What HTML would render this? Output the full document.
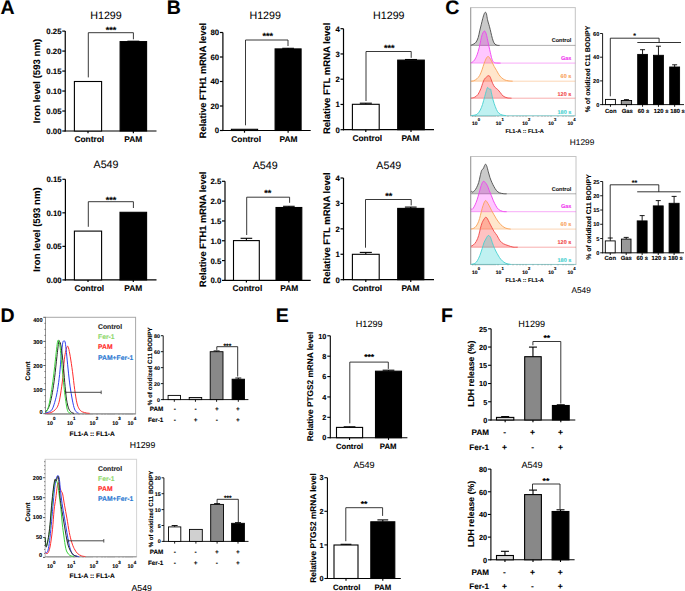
<!DOCTYPE html>
<html><head><meta charset="utf-8"><style>html,body{margin:0;padding:0;background:#fff;width:685px;height:591px;overflow:hidden}svg{display:block}</style></head><body>
<svg width="685" height="591" viewBox="0 0 685 591" style='font-family: "Liberation Sans", sans-serif;' text-rendering="geometricPrecision">
<rect width="685" height="591" fill="#fff"/>
<text x="0.4" y="14.4" text-anchor="start" font-size="19.5" font-weight="bold" fill="#000" stroke="#000" stroke-width="0.1">A</text>
<text x="166.8" y="14.4" text-anchor="start" font-size="19.5" font-weight="bold" fill="#000" stroke="#000" stroke-width="0.1">B</text>
<text x="445.2" y="14.4" text-anchor="start" font-size="19.5" font-weight="bold" fill="#000" stroke="#000" stroke-width="0.1">C</text>
<text x="0.6" y="322" text-anchor="start" font-size="19.5" font-weight="bold" fill="#000" stroke="#000" stroke-width="0.1">D</text>
<text x="275.7" y="322" text-anchor="start" font-size="19.5" font-weight="bold" fill="#000" stroke="#000" stroke-width="0.1">E</text>
<text x="440.9" y="321.8" text-anchor="start" font-size="19.5" font-weight="bold" fill="#000" stroke="#000" stroke-width="0.1">F</text>
<text x="106" y="19" text-anchor="middle" font-size="10.7" font-weight="normal" fill="#000" stroke="#000" stroke-width="0.06">H1299</text>
<line x1="65.25" y1="31.1" x2="65.25" y2="131.6" stroke="#000" stroke-width="1.2"/>
<line x1="64.65" y1="131" x2="156.5" y2="131" stroke="#000" stroke-width="1.2"/>
<line x1="62.25" y1="131" x2="65.25" y2="131" stroke="#000" stroke-width="1.2"/>
<text x="61.55" y="133.96" text-anchor="end" font-size="7.8" font-weight="bold" fill="#000" stroke="#000" stroke-width="0.1">0.00</text>
<line x1="62.25" y1="111.02" x2="65.25" y2="111.02" stroke="#000" stroke-width="1.2"/>
<text x="61.55" y="113.98" text-anchor="end" font-size="7.8" font-weight="bold" fill="#000" stroke="#000" stroke-width="0.1">0.05</text>
<line x1="62.25" y1="91.04" x2="65.25" y2="91.04" stroke="#000" stroke-width="1.2"/>
<text x="61.55" y="94" text-anchor="end" font-size="7.8" font-weight="bold" fill="#000" stroke="#000" stroke-width="0.1">0.10</text>
<line x1="62.25" y1="71.06" x2="65.25" y2="71.06" stroke="#000" stroke-width="1.2"/>
<text x="61.55" y="74.02" text-anchor="end" font-size="7.8" font-weight="bold" fill="#000" stroke="#000" stroke-width="0.1">0.15</text>
<line x1="62.25" y1="51.08" x2="65.25" y2="51.08" stroke="#000" stroke-width="1.2"/>
<text x="61.55" y="54.04" text-anchor="end" font-size="7.8" font-weight="bold" fill="#000" stroke="#000" stroke-width="0.1">0.20</text>
<line x1="62.25" y1="31.1" x2="65.25" y2="31.1" stroke="#000" stroke-width="1.2"/>
<text x="61.55" y="34.06" text-anchor="end" font-size="7.8" font-weight="bold" fill="#000" stroke="#000" stroke-width="0.1">0.25</text>
<rect x="74.4" y="81.5" width="27.2" height="49.5" fill="#fff" stroke="#000" stroke-width="1.1"/>
<line x1="88" y1="131" x2="88" y2="133.2" stroke="#000" stroke-width="1.2"/>
<line x1="133.35" y1="41.2" x2="133.35" y2="41.6" stroke="#000" stroke-width="1.1"/>
<line x1="127.39" y1="41.2" x2="139.31" y2="41.2" stroke="#000" stroke-width="1.1"/>
<rect x="120.1" y="41.6" width="26.5" height="89.4" fill="#000" stroke="#000" stroke-width="1.1"/>
<line x1="133.35" y1="131" x2="133.35" y2="133.2" stroke="#000" stroke-width="1.2"/>
<polyline points="88.3,77.4 88.3,32.7 133.4,32.7 133.4,39.3" fill="none" stroke="#222" stroke-width="0.9"/>
<text x="111" y="33.2" text-anchor="middle" font-size="9" font-weight="bold" fill="#000" stroke="#000" stroke-width="0.1">***</text>
<text x="89.3" y="142.1" text-anchor="middle" font-size="8.4" font-weight="bold" fill="#000" stroke="#000" stroke-width="0.1">Control</text>
<text x="133.2" y="142.1" text-anchor="middle" font-size="8.4" font-weight="bold" fill="#000" stroke="#000" stroke-width="0.1">PAM</text>
<text transform="translate(40,81) rotate(-90)" text-anchor="middle" font-size="9.6" font-weight="bold" fill="#000" stroke="#000" stroke-width="0.1">Iron level (593 nm)</text>
<text x="106" y="168" text-anchor="middle" font-size="10.7" font-weight="normal" fill="#000" stroke="#000" stroke-width="0.06">A549</text>
<line x1="65.4" y1="179.3" x2="65.4" y2="280.5" stroke="#000" stroke-width="1.2"/>
<line x1="64.8" y1="279.9" x2="156.5" y2="279.9" stroke="#000" stroke-width="1.2"/>
<line x1="62.4" y1="279.9" x2="65.4" y2="279.9" stroke="#000" stroke-width="1.2"/>
<text x="61.7" y="282.86" text-anchor="end" font-size="7.8" font-weight="bold" fill="#000" stroke="#000" stroke-width="0.1">0.00</text>
<line x1="62.4" y1="246.37" x2="65.4" y2="246.37" stroke="#000" stroke-width="1.2"/>
<text x="61.7" y="249.33" text-anchor="end" font-size="7.8" font-weight="bold" fill="#000" stroke="#000" stroke-width="0.1">0.05</text>
<line x1="62.4" y1="212.83" x2="65.4" y2="212.83" stroke="#000" stroke-width="1.2"/>
<text x="61.7" y="215.8" text-anchor="end" font-size="7.8" font-weight="bold" fill="#000" stroke="#000" stroke-width="0.1">0.10</text>
<line x1="62.4" y1="179.3" x2="65.4" y2="179.3" stroke="#000" stroke-width="1.2"/>
<text x="61.7" y="182.26" text-anchor="end" font-size="7.8" font-weight="bold" fill="#000" stroke="#000" stroke-width="0.1">0.15</text>
<rect x="74.4" y="231.1" width="27.2" height="48.8" fill="#fff" stroke="#000" stroke-width="1.1"/>
<line x1="88" y1="279.9" x2="88" y2="282.1" stroke="#000" stroke-width="1.2"/>
<rect x="120" y="212.3" width="26.6" height="67.6" fill="#000" stroke="#000" stroke-width="1.1"/>
<line x1="133.3" y1="279.9" x2="133.3" y2="282.1" stroke="#000" stroke-width="1.2"/>
<polyline points="88.3,226.8 88.3,201.7 133.4,201.7 133.4,208" fill="none" stroke="#222" stroke-width="0.9"/>
<text x="111" y="202.9" text-anchor="middle" font-size="9" font-weight="bold" fill="#000" stroke="#000" stroke-width="0.1">***</text>
<text x="89.3" y="291" text-anchor="middle" font-size="8.4" font-weight="bold" fill="#000" stroke="#000" stroke-width="0.1">Control</text>
<text x="133.2" y="291" text-anchor="middle" font-size="8.4" font-weight="bold" fill="#000" stroke="#000" stroke-width="0.1">PAM</text>
<text transform="translate(40,229.5) rotate(-90)" text-anchor="middle" font-size="9.6" font-weight="bold" fill="#000" stroke="#000" stroke-width="0.1">Iron level (593 nm)</text>
<text x="265.2" y="19" text-anchor="middle" font-size="10.7" font-weight="normal" fill="#000" stroke="#000" stroke-width="0.06">H1299</text>
<line x1="222.9" y1="32.5" x2="222.9" y2="131.1" stroke="#000" stroke-width="1.2"/>
<line x1="222.3" y1="130.5" x2="310.7" y2="130.5" stroke="#000" stroke-width="1.2"/>
<line x1="219.9" y1="130.5" x2="222.9" y2="130.5" stroke="#000" stroke-width="1.2"/>
<text x="219.2" y="133.46" text-anchor="end" font-size="7.8" font-weight="bold" fill="#000" stroke="#000" stroke-width="0.1">0</text>
<line x1="219.9" y1="106" x2="222.9" y2="106" stroke="#000" stroke-width="1.2"/>
<text x="219.2" y="108.96" text-anchor="end" font-size="7.8" font-weight="bold" fill="#000" stroke="#000" stroke-width="0.1">20</text>
<line x1="219.9" y1="81.5" x2="222.9" y2="81.5" stroke="#000" stroke-width="1.2"/>
<text x="219.2" y="84.46" text-anchor="end" font-size="7.8" font-weight="bold" fill="#000" stroke="#000" stroke-width="0.1">40</text>
<line x1="219.9" y1="57" x2="222.9" y2="57" stroke="#000" stroke-width="1.2"/>
<text x="219.2" y="59.96" text-anchor="end" font-size="7.8" font-weight="bold" fill="#000" stroke="#000" stroke-width="0.1">60</text>
<line x1="219.9" y1="32.5" x2="222.9" y2="32.5" stroke="#000" stroke-width="1.2"/>
<text x="219.2" y="35.46" text-anchor="end" font-size="7.8" font-weight="bold" fill="#000" stroke="#000" stroke-width="0.1">80</text>
<rect x="231.4" y="129.3" width="26.2" height="1.2" fill="#fff" stroke="#000" stroke-width="1.1"/>
<line x1="244.5" y1="130.5" x2="244.5" y2="132.7" stroke="#000" stroke-width="1.2"/>
<line x1="288.1" y1="48.3" x2="288.1" y2="48.9" stroke="#000" stroke-width="1.1"/>
<line x1="282.25" y1="48.3" x2="293.95" y2="48.3" stroke="#000" stroke-width="1.1"/>
<rect x="275.1" y="48.9" width="26" height="81.6" fill="#000" stroke="#000" stroke-width="1.1"/>
<line x1="288.1" y1="130.5" x2="288.1" y2="132.7" stroke="#000" stroke-width="1.2"/>
<polyline points="245.5,125.3 245.5,40 288,40 288,46" fill="none" stroke="#222" stroke-width="0.9"/>
<text x="267.7" y="38.7" text-anchor="middle" font-size="9" font-weight="bold" fill="#000" stroke="#000" stroke-width="0.1">***</text>
<text x="246.2" y="142.1" text-anchor="middle" font-size="8.4" font-weight="bold" fill="#000" stroke="#000" stroke-width="0.1">Control</text>
<text x="288.5" y="142.1" text-anchor="middle" font-size="8.4" font-weight="bold" fill="#000" stroke="#000" stroke-width="0.1">PAM</text>
<text transform="translate(205.5,80.5) rotate(-90)" text-anchor="middle" font-size="9.3" font-weight="bold" fill="#000" stroke="#000" stroke-width="0.1">Relative FTH1 mRNA level</text>
<text x="388.8" y="19" text-anchor="middle" font-size="10.7" font-weight="normal" fill="#000" stroke="#000" stroke-width="0.06">H1299</text>
<line x1="343.5" y1="28.7" x2="343.5" y2="130.3" stroke="#000" stroke-width="1.2"/>
<line x1="342.9" y1="129.7" x2="434" y2="129.7" stroke="#000" stroke-width="1.2"/>
<line x1="340.5" y1="129.7" x2="343.5" y2="129.7" stroke="#000" stroke-width="1.2"/>
<text x="339.8" y="132.66" text-anchor="end" font-size="7.8" font-weight="bold" fill="#000" stroke="#000" stroke-width="0.1">0</text>
<line x1="340.5" y1="104.45" x2="343.5" y2="104.45" stroke="#000" stroke-width="1.2"/>
<text x="339.8" y="107.41" text-anchor="end" font-size="7.8" font-weight="bold" fill="#000" stroke="#000" stroke-width="0.1">1</text>
<line x1="340.5" y1="79.2" x2="343.5" y2="79.2" stroke="#000" stroke-width="1.2"/>
<text x="339.8" y="82.16" text-anchor="end" font-size="7.8" font-weight="bold" fill="#000" stroke="#000" stroke-width="0.1">2</text>
<line x1="340.5" y1="53.95" x2="343.5" y2="53.95" stroke="#000" stroke-width="1.2"/>
<text x="339.8" y="56.91" text-anchor="end" font-size="7.8" font-weight="bold" fill="#000" stroke="#000" stroke-width="0.1">3</text>
<line x1="340.5" y1="28.7" x2="343.5" y2="28.7" stroke="#000" stroke-width="1.2"/>
<text x="339.8" y="31.66" text-anchor="end" font-size="7.8" font-weight="bold" fill="#000" stroke="#000" stroke-width="0.1">4</text>
<line x1="365.8" y1="103.2" x2="365.8" y2="104.3" stroke="#000" stroke-width="1.1"/>
<line x1="359.77" y1="103.2" x2="371.83" y2="103.2" stroke="#000" stroke-width="1.1"/>
<rect x="352.4" y="104.3" width="26.8" height="25.4" fill="#fff" stroke="#000" stroke-width="1.1"/>
<line x1="365.8" y1="129.7" x2="365.8" y2="131.9" stroke="#000" stroke-width="1.2"/>
<line x1="411" y1="59.5" x2="411" y2="60.1" stroke="#000" stroke-width="1.1"/>
<line x1="405.01" y1="59.5" x2="416.99" y2="59.5" stroke="#000" stroke-width="1.1"/>
<rect x="397.7" y="60.1" width="26.6" height="69.6" fill="#000" stroke="#000" stroke-width="1.1"/>
<line x1="411" y1="129.7" x2="411" y2="131.9" stroke="#000" stroke-width="1.2"/>
<polyline points="366,101 366,51.5 411.2,51.5 411.2,57.8" fill="none" stroke="#222" stroke-width="0.9"/>
<text x="389.3" y="50.7" text-anchor="middle" font-size="9" font-weight="bold" fill="#000" stroke="#000" stroke-width="0.1">***</text>
<text x="367.3" y="141.4" text-anchor="middle" font-size="8.4" font-weight="bold" fill="#000" stroke="#000" stroke-width="0.1">Control</text>
<text x="410.4" y="141.4" text-anchor="middle" font-size="8.4" font-weight="bold" fill="#000" stroke="#000" stroke-width="0.1">PAM</text>
<text transform="translate(329.7,78.4) rotate(-90)" text-anchor="middle" font-size="9.5" font-weight="bold" fill="#000" stroke="#000" stroke-width="0.1">Relative FTL mRNA level</text>
<text x="265.2" y="169" text-anchor="middle" font-size="10.7" font-weight="normal" fill="#000" stroke="#000" stroke-width="0.06">A549</text>
<line x1="225" y1="181.3" x2="225" y2="281" stroke="#000" stroke-width="1.2"/>
<line x1="224.4" y1="280.4" x2="310.7" y2="280.4" stroke="#000" stroke-width="1.2"/>
<line x1="222" y1="280.4" x2="225" y2="280.4" stroke="#000" stroke-width="1.2"/>
<text x="221.3" y="283.36" text-anchor="end" font-size="7.8" font-weight="bold" fill="#000" stroke="#000" stroke-width="0.1">0.0</text>
<line x1="222" y1="260.58" x2="225" y2="260.58" stroke="#000" stroke-width="1.2"/>
<text x="221.3" y="263.54" text-anchor="end" font-size="7.8" font-weight="bold" fill="#000" stroke="#000" stroke-width="0.1">0.5</text>
<line x1="222" y1="240.76" x2="225" y2="240.76" stroke="#000" stroke-width="1.2"/>
<text x="221.3" y="243.72" text-anchor="end" font-size="7.8" font-weight="bold" fill="#000" stroke="#000" stroke-width="0.1">1.0</text>
<line x1="222" y1="220.94" x2="225" y2="220.94" stroke="#000" stroke-width="1.2"/>
<text x="221.3" y="223.9" text-anchor="end" font-size="7.8" font-weight="bold" fill="#000" stroke="#000" stroke-width="0.1">1.5</text>
<line x1="222" y1="201.12" x2="225" y2="201.12" stroke="#000" stroke-width="1.2"/>
<text x="221.3" y="204.08" text-anchor="end" font-size="7.8" font-weight="bold" fill="#000" stroke="#000" stroke-width="0.1">2.0</text>
<line x1="222" y1="181.3" x2="225" y2="181.3" stroke="#000" stroke-width="1.2"/>
<text x="221.3" y="184.26" text-anchor="end" font-size="7.8" font-weight="bold" fill="#000" stroke="#000" stroke-width="0.1">2.5</text>
<line x1="246.4" y1="238.3" x2="246.4" y2="240.6" stroke="#000" stroke-width="1.1"/>
<line x1="240.59" y1="238.3" x2="252.21" y2="238.3" stroke="#000" stroke-width="1.1"/>
<rect x="233.5" y="240.6" width="25.8" height="39.8" fill="#fff" stroke="#000" stroke-width="1.1"/>
<line x1="246.4" y1="280.4" x2="246.4" y2="282.6" stroke="#000" stroke-width="1.2"/>
<line x1="288.9" y1="206.3" x2="288.9" y2="207.5" stroke="#000" stroke-width="1.1"/>
<line x1="283.09" y1="206.3" x2="294.7" y2="206.3" stroke="#000" stroke-width="1.1"/>
<rect x="276" y="207.5" width="25.8" height="72.9" fill="#000" stroke="#000" stroke-width="1.1"/>
<line x1="288.9" y1="280.4" x2="288.9" y2="282.6" stroke="#000" stroke-width="1.2"/>
<polyline points="246.7,235 246.7,197.2 289.6,197.2 289.6,202.8" fill="none" stroke="#222" stroke-width="0.9"/>
<text x="267.7" y="195.9" text-anchor="middle" font-size="9" font-weight="bold" fill="#000" stroke="#000" stroke-width="0.1">**</text>
<text x="247.4" y="291" text-anchor="middle" font-size="8.4" font-weight="bold" fill="#000" stroke="#000" stroke-width="0.1">Control</text>
<text x="289.3" y="291" text-anchor="middle" font-size="8.4" font-weight="bold" fill="#000" stroke="#000" stroke-width="0.1">PAM</text>
<text transform="translate(205.5,229.3) rotate(-90)" text-anchor="middle" font-size="9.3" font-weight="bold" fill="#000" stroke="#000" stroke-width="0.1">Relative FTH1 mRNA level</text>
<text x="388.8" y="169" text-anchor="middle" font-size="10.7" font-weight="normal" fill="#000" stroke="#000" stroke-width="0.06">A549</text>
<line x1="343.5" y1="178" x2="343.5" y2="280.3" stroke="#000" stroke-width="1.2"/>
<line x1="342.9" y1="279.7" x2="434" y2="279.7" stroke="#000" stroke-width="1.2"/>
<line x1="340.5" y1="279.7" x2="343.5" y2="279.7" stroke="#000" stroke-width="1.2"/>
<text x="339.8" y="282.66" text-anchor="end" font-size="7.8" font-weight="bold" fill="#000" stroke="#000" stroke-width="0.1">0</text>
<line x1="340.5" y1="254.27" x2="343.5" y2="254.27" stroke="#000" stroke-width="1.2"/>
<text x="339.8" y="257.24" text-anchor="end" font-size="7.8" font-weight="bold" fill="#000" stroke="#000" stroke-width="0.1">1</text>
<line x1="340.5" y1="228.85" x2="343.5" y2="228.85" stroke="#000" stroke-width="1.2"/>
<text x="339.8" y="231.81" text-anchor="end" font-size="7.8" font-weight="bold" fill="#000" stroke="#000" stroke-width="0.1">2</text>
<line x1="340.5" y1="203.43" x2="343.5" y2="203.43" stroke="#000" stroke-width="1.2"/>
<text x="339.8" y="206.39" text-anchor="end" font-size="7.8" font-weight="bold" fill="#000" stroke="#000" stroke-width="0.1">3</text>
<line x1="340.5" y1="178" x2="343.5" y2="178" stroke="#000" stroke-width="1.2"/>
<text x="339.8" y="180.96" text-anchor="end" font-size="7.8" font-weight="bold" fill="#000" stroke="#000" stroke-width="0.1">4</text>
<line x1="365.8" y1="252.4" x2="365.8" y2="254.3" stroke="#000" stroke-width="1.1"/>
<line x1="359.77" y1="252.4" x2="371.83" y2="252.4" stroke="#000" stroke-width="1.1"/>
<rect x="352.4" y="254.3" width="26.8" height="25.4" fill="#fff" stroke="#000" stroke-width="1.1"/>
<line x1="365.8" y1="279.7" x2="365.8" y2="281.9" stroke="#000" stroke-width="1.2"/>
<line x1="410.75" y1="207.1" x2="410.75" y2="208.4" stroke="#000" stroke-width="1.1"/>
<line x1="404.88" y1="207.1" x2="416.62" y2="207.1" stroke="#000" stroke-width="1.1"/>
<rect x="397.7" y="208.4" width="26.1" height="71.3" fill="#000" stroke="#000" stroke-width="1.1"/>
<line x1="410.75" y1="279.7" x2="410.75" y2="281.9" stroke="#000" stroke-width="1.2"/>
<polyline points="365.5,247.7 365.5,199.5 411.2,199.5 411.2,205.4" fill="none" stroke="#222" stroke-width="0.9"/>
<text x="388.8" y="199" text-anchor="middle" font-size="9" font-weight="bold" fill="#000" stroke="#000" stroke-width="0.1">**</text>
<text x="367.3" y="291" text-anchor="middle" font-size="8.4" font-weight="bold" fill="#000" stroke="#000" stroke-width="0.1">Control</text>
<text x="410.4" y="291" text-anchor="middle" font-size="8.4" font-weight="bold" fill="#000" stroke="#000" stroke-width="0.1">PAM</text>
<text transform="translate(329.7,228) rotate(-90)" text-anchor="middle" font-size="9.5" font-weight="bold" fill="#000" stroke="#000" stroke-width="0.1">Relative FTL mRNA level</text>
<rect x="470.7" y="7.6" width="104.6" height="108.3" fill="#fff" stroke="#c4c4c4" stroke-width="1"/>
<path d="M470.5,45.4 C471.02,45.18 472.67,44.65 473.6,44.1 C474.53,43.55 475.33,43.2 476.1,42.1 C476.87,41 477.6,39.37 478.2,37.5 C478.8,35.63 479.2,33.02 479.7,30.9 C480.2,28.78 480.7,26.83 481.2,24.8 C481.7,22.77 482.18,20.57 482.7,18.7 C483.22,16.83 483.83,14.67 484.3,13.6 C484.77,12.53 485.13,12.22 485.5,12.3 C485.87,12.38 486.17,12.87 486.5,14.1 C486.83,15.33 487.12,18 487.5,19.7 C487.88,21.4 488.35,22.68 488.8,24.3 C489.25,25.92 489.73,27.53 490.2,29.4 C490.67,31.27 491.1,33.55 491.6,35.5 C492.1,37.45 492.65,39.67 493.2,41.1 C493.75,42.53 494.18,43.4 494.9,44.1 C495.62,44.8 496.73,45.08 497.5,45.3 C498.27,45.52 499.17,45.38 499.5,45.4 L499.5,45.4 L470.5,45.4 Z" fill="#808080" fill-opacity="0.42" stroke="none"/>
<line x1="470.7" y1="45.4" x2="575.3" y2="45.4" stroke="#4a4a4a" stroke-width="0.8" stroke-opacity="0.55"/>
<path d="M470.5,45.4 C471.02,45.18 472.67,44.65 473.6,44.1 C474.53,43.55 475.33,43.2 476.1,42.1 C476.87,41 477.6,39.37 478.2,37.5 C478.8,35.63 479.2,33.02 479.7,30.9 C480.2,28.78 480.7,26.83 481.2,24.8 C481.7,22.77 482.18,20.57 482.7,18.7 C483.22,16.83 483.83,14.67 484.3,13.6 C484.77,12.53 485.13,12.22 485.5,12.3 C485.87,12.38 486.17,12.87 486.5,14.1 C486.83,15.33 487.12,18 487.5,19.7 C487.88,21.4 488.35,22.68 488.8,24.3 C489.25,25.92 489.73,27.53 490.2,29.4 C490.67,31.27 491.1,33.55 491.6,35.5 C492.1,37.45 492.65,39.67 493.2,41.1 C493.75,42.53 494.18,43.4 494.9,44.1 C495.62,44.8 496.73,45.08 497.5,45.3 C498.27,45.52 499.17,45.38 499.5,45.4" fill="none" stroke="#4a4a4a" stroke-width="0.9" stroke-linejoin="round"/>
<path d="M470.5,63.1 C470.85,62.9 471.92,62.43 472.6,61.9 C473.28,61.37 473.85,61.08 474.6,59.9 C475.35,58.72 476.33,56.83 477.1,54.8 C477.87,52.77 478.6,50.07 479.2,47.7 C479.8,45.33 480.2,42.8 480.7,40.6 C481.2,38.4 481.68,36.03 482.2,34.5 C482.72,32.97 483.37,31.95 483.8,31.4 C484.23,30.85 484.42,30.85 484.8,31.2 C485.18,31.55 485.68,32.28 486.1,33.5 C486.52,34.72 486.85,36.47 487.3,38.5 C487.75,40.53 488.28,43.32 488.8,45.7 C489.32,48.08 489.88,50.6 490.4,52.8 C490.92,55 491.4,57.38 491.9,58.9 C492.4,60.42 492.82,61.23 493.4,61.9 C493.98,62.57 494.22,62.7 495.4,62.9 C496.58,63.1 499.65,63.07 500.5,63.1 L500.5,63.1 L470.5,63.1 Z" fill="#ff00ff" fill-opacity="0.22" stroke="none"/>
<line x1="470.7" y1="63.1" x2="575.3" y2="63.1" stroke="#f040f0" stroke-width="0.8" stroke-opacity="0.55"/>
<path d="M470.5,63.1 C470.85,62.9 471.92,62.43 472.6,61.9 C473.28,61.37 473.85,61.08 474.6,59.9 C475.35,58.72 476.33,56.83 477.1,54.8 C477.87,52.77 478.6,50.07 479.2,47.7 C479.8,45.33 480.2,42.8 480.7,40.6 C481.2,38.4 481.68,36.03 482.2,34.5 C482.72,32.97 483.37,31.95 483.8,31.4 C484.23,30.85 484.42,30.85 484.8,31.2 C485.18,31.55 485.68,32.28 486.1,33.5 C486.52,34.72 486.85,36.47 487.3,38.5 C487.75,40.53 488.28,43.32 488.8,45.7 C489.32,48.08 489.88,50.6 490.4,52.8 C490.92,55 491.4,57.38 491.9,58.9 C492.4,60.42 492.82,61.23 493.4,61.9 C493.98,62.57 494.22,62.7 495.4,62.9 C496.58,63.1 499.65,63.07 500.5,63.1" fill="none" stroke="#f040f0" stroke-width="0.9" stroke-linejoin="round"/>
<path d="M470.8,81.2 C471.27,81.13 472.58,81.2 473.6,80.8 C474.62,80.4 475.88,79.7 476.9,78.8 C477.92,77.9 478.85,76.88 479.7,75.4 C480.55,73.92 481.25,71.93 482,69.9 C482.75,67.87 483.47,65.17 484.2,63.2 C484.93,61.23 485.75,59.22 486.4,58.1 C487.05,56.98 487.53,56.5 488.1,56.5 C488.67,56.5 489.15,57.18 489.8,58.1 C490.45,59.02 491.27,60.6 492,62 C492.73,63.4 493.45,65.1 494.2,66.5 C494.95,67.9 495.75,69.1 496.5,70.4 C497.25,71.7 497.87,73.08 498.7,74.3 C499.53,75.52 500.48,76.77 501.5,77.7 C502.52,78.63 503.68,79.38 504.8,79.9 C505.92,80.42 506.9,80.58 508.2,80.8 C509.5,81.02 511.87,81.13 512.6,81.2 L512.6,81.2 L470.8,81.2 Z" fill="#ff8000" fill-opacity="0.2" stroke="none"/>
<line x1="470.7" y1="81.2" x2="575.3" y2="81.2" stroke="#f9a055" stroke-width="0.8" stroke-opacity="0.55"/>
<path d="M470.8,81.2 C471.27,81.13 472.58,81.2 473.6,80.8 C474.62,80.4 475.88,79.7 476.9,78.8 C477.92,77.9 478.85,76.88 479.7,75.4 C480.55,73.92 481.25,71.93 482,69.9 C482.75,67.87 483.47,65.17 484.2,63.2 C484.93,61.23 485.75,59.22 486.4,58.1 C487.05,56.98 487.53,56.5 488.1,56.5 C488.67,56.5 489.15,57.18 489.8,58.1 C490.45,59.02 491.27,60.6 492,62 C492.73,63.4 493.45,65.1 494.2,66.5 C494.95,67.9 495.75,69.1 496.5,70.4 C497.25,71.7 497.87,73.08 498.7,74.3 C499.53,75.52 500.48,76.77 501.5,77.7 C502.52,78.63 503.68,79.38 504.8,79.9 C505.92,80.42 506.9,80.58 508.2,80.8 C509.5,81.02 511.87,81.13 512.6,81.2" fill="none" stroke="#f9a055" stroke-width="0.9" stroke-linejoin="round"/>
<path d="M470.8,98.2 C471.45,98.03 473.5,97.83 474.7,97.2 C475.9,96.57 476.98,95.8 478,94.4 C479.02,93 479.95,90.85 480.8,88.8 C481.65,86.75 482.45,83.77 483.1,82.1 C483.75,80.43 484.15,79.63 484.7,78.8 C485.25,77.97 485.83,77.62 486.4,77.1 C486.97,76.58 487.53,75.83 488.1,75.7 C488.67,75.57 489.33,75.78 489.8,76.3 C490.27,76.82 490.43,77.63 490.9,78.8 C491.37,79.97 491.95,81.9 492.6,83.3 C493.25,84.7 493.97,86.18 494.8,87.2 C495.63,88.22 496.67,88.48 497.6,89.4 C498.53,90.32 499.47,91.58 500.4,92.7 C501.33,93.82 502.08,95.25 503.2,96.1 C504.32,96.95 505.72,97.45 507.1,97.8 C508.48,98.15 510.77,98.13 511.5,98.2 L511.5,98.2 L470.8,98.2 Z" fill="#ff0000" fill-opacity="0.24" stroke="none"/>
<line x1="470.7" y1="98.2" x2="575.3" y2="98.2" stroke="#f04545" stroke-width="0.8" stroke-opacity="0.55"/>
<path d="M470.8,98.2 C471.45,98.03 473.5,97.83 474.7,97.2 C475.9,96.57 476.98,95.8 478,94.4 C479.02,93 479.95,90.85 480.8,88.8 C481.65,86.75 482.45,83.77 483.1,82.1 C483.75,80.43 484.15,79.63 484.7,78.8 C485.25,77.97 485.83,77.62 486.4,77.1 C486.97,76.58 487.53,75.83 488.1,75.7 C488.67,75.57 489.33,75.78 489.8,76.3 C490.27,76.82 490.43,77.63 490.9,78.8 C491.37,79.97 491.95,81.9 492.6,83.3 C493.25,84.7 493.97,86.18 494.8,87.2 C495.63,88.22 496.67,88.48 497.6,89.4 C498.53,90.32 499.47,91.58 500.4,92.7 C501.33,93.82 502.08,95.25 503.2,96.1 C504.32,96.95 505.72,97.45 507.1,97.8 C508.48,98.15 510.77,98.13 511.5,98.2" fill="none" stroke="#f04545" stroke-width="0.9" stroke-linejoin="round"/>
<path d="M470.8,115.6 C471.45,115.52 473.58,115.38 474.7,115.1 C475.82,114.82 476.57,114.75 477.5,113.9 C478.43,113.05 479.47,111.57 480.3,110 C481.13,108.43 481.77,106.73 482.5,104.5 C483.23,102.27 484.05,98.93 484.7,96.6 C485.35,94.27 485.93,92.02 486.4,90.5 C486.87,88.98 487.13,87.87 487.5,87.5 C487.87,87.13 488.22,87.98 488.6,88.3 C488.98,88.62 489.45,89.27 489.8,89.4 C490.15,89.53 490.43,88.55 490.7,89.1 C490.97,89.65 491,90.88 491.4,92.7 C491.8,94.52 492.45,97.67 493.1,100 C493.75,102.33 494.55,104.75 495.3,106.7 C496.05,108.65 496.75,110.43 497.6,111.7 C498.45,112.97 499.38,113.7 500.4,114.3 C501.42,114.9 502.78,115.08 503.7,115.3 C504.62,115.52 505.53,115.55 505.9,115.6 L505.9,115.6 L470.8,115.6 Z" fill="#00c8c8" fill-opacity="0.25" stroke="none"/>
<line x1="470.7" y1="115.6" x2="575.3" y2="115.6" stroke="#45d0d0" stroke-width="0.8" stroke-opacity="0.55"/>
<path d="M470.8,115.6 C471.45,115.52 473.58,115.38 474.7,115.1 C475.82,114.82 476.57,114.75 477.5,113.9 C478.43,113.05 479.47,111.57 480.3,110 C481.13,108.43 481.77,106.73 482.5,104.5 C483.23,102.27 484.05,98.93 484.7,96.6 C485.35,94.27 485.93,92.02 486.4,90.5 C486.87,88.98 487.13,87.87 487.5,87.5 C487.87,87.13 488.22,87.98 488.6,88.3 C488.98,88.62 489.45,89.27 489.8,89.4 C490.15,89.53 490.43,88.55 490.7,89.1 C490.97,89.65 491,90.88 491.4,92.7 C491.8,94.52 492.45,97.67 493.1,100 C493.75,102.33 494.55,104.75 495.3,106.7 C496.05,108.65 496.75,110.43 497.6,111.7 C498.45,112.97 499.38,113.7 500.4,114.3 C501.42,114.9 502.78,115.08 503.7,115.3 C504.62,115.52 505.53,115.55 505.9,115.6" fill="none" stroke="#45d0d0" stroke-width="0.9" stroke-linejoin="round"/>
<line x1="470.7" y1="7.6" x2="470.7" y2="115.9" stroke="#999" stroke-width="0.9"/>
<line x1="472.5" y1="115.9" x2="472.5" y2="116.8" stroke="#666" stroke-width="0.5"/>
<line x1="474" y1="115.9" x2="474" y2="116.8" stroke="#666" stroke-width="0.5"/>
<line x1="475.5" y1="115.9" x2="475.5" y2="116.8" stroke="#666" stroke-width="0.5"/>
<line x1="477" y1="115.9" x2="477" y2="116.8" stroke="#666" stroke-width="0.5"/>
<line x1="479" y1="115.9" x2="479" y2="116.8" stroke="#666" stroke-width="0.5"/>
<line x1="481" y1="115.9" x2="481" y2="116.8" stroke="#666" stroke-width="0.5"/>
<line x1="483" y1="115.9" x2="483" y2="116.8" stroke="#666" stroke-width="0.5"/>
<line x1="485" y1="115.9" x2="485" y2="116.8" stroke="#666" stroke-width="0.5"/>
<line x1="487" y1="115.9" x2="487" y2="116.8" stroke="#666" stroke-width="0.5"/>
<line x1="489" y1="115.9" x2="489" y2="116.8" stroke="#666" stroke-width="0.5"/>
<line x1="491" y1="115.9" x2="491" y2="116.8" stroke="#666" stroke-width="0.5"/>
<line x1="493" y1="115.9" x2="493" y2="116.8" stroke="#666" stroke-width="0.5"/>
<line x1="495" y1="115.9" x2="495" y2="116.8" stroke="#666" stroke-width="0.5"/>
<line x1="498" y1="115.9" x2="498" y2="116.8" stroke="#666" stroke-width="0.5"/>
<line x1="508" y1="115.9" x2="508" y2="116.8" stroke="#666" stroke-width="0.5"/>
<line x1="513" y1="115.9" x2="513" y2="116.8" stroke="#666" stroke-width="0.5"/>
<line x1="517" y1="115.9" x2="517" y2="116.8" stroke="#666" stroke-width="0.5"/>
<line x1="520" y1="115.9" x2="520" y2="116.8" stroke="#666" stroke-width="0.5"/>
<line x1="523" y1="115.9" x2="523" y2="116.8" stroke="#666" stroke-width="0.5"/>
<line x1="526" y1="115.9" x2="526" y2="116.8" stroke="#666" stroke-width="0.5"/>
<line x1="533" y1="115.9" x2="533" y2="116.8" stroke="#666" stroke-width="0.5"/>
<line x1="538" y1="115.9" x2="538" y2="116.8" stroke="#666" stroke-width="0.5"/>
<line x1="542" y1="115.9" x2="542" y2="116.8" stroke="#666" stroke-width="0.5"/>
<line x1="545" y1="115.9" x2="545" y2="116.8" stroke="#666" stroke-width="0.5"/>
<line x1="548" y1="115.9" x2="548" y2="116.8" stroke="#666" stroke-width="0.5"/>
<line x1="551" y1="115.9" x2="551" y2="116.8" stroke="#666" stroke-width="0.5"/>
<line x1="558" y1="115.9" x2="558" y2="116.8" stroke="#666" stroke-width="0.5"/>
<line x1="563" y1="115.9" x2="563" y2="116.8" stroke="#666" stroke-width="0.5"/>
<line x1="566" y1="115.9" x2="566" y2="116.8" stroke="#666" stroke-width="0.5"/>
<line x1="569" y1="115.9" x2="569" y2="116.8" stroke="#666" stroke-width="0.5"/>
<line x1="571" y1="115.9" x2="571" y2="116.8" stroke="#666" stroke-width="0.5"/>
<line x1="573" y1="115.9" x2="573" y2="116.8" stroke="#666" stroke-width="0.5"/>
<text x="571.3" y="42.3" text-anchor="end" font-size="5.5" font-weight="bold" fill="#222" stroke="#222" stroke-width="0.1">Control</text>
<text x="571.3" y="60.4" text-anchor="end" font-size="5.5" font-weight="bold" fill="#f040f0" stroke="#f040f0" stroke-width="0.1">Gas</text>
<text x="571.3" y="78.2" text-anchor="end" font-size="5.5" font-weight="bold" fill="#f9a055" stroke="#f9a055" stroke-width="0.1">60 s</text>
<text x="571.3" y="96.1" text-anchor="end" font-size="5.5" font-weight="bold" fill="#f04545" stroke="#f04545" stroke-width="0.1">120 s</text>
<text x="571.3" y="113.9" text-anchor="end" font-size="5.5" font-weight="bold" fill="#45d0d0" stroke="#45d0d0" stroke-width="0.1">180 s</text>
<text x="472" y="125.1" text-anchor="start" font-size="5" font-weight="bold" fill="#000" stroke="#000" stroke-width="0.1">10</text>
<text x="477.7" y="121" text-anchor="start" font-size="4.25" font-weight="bold" fill="#000" stroke="#000" stroke-width="0.1">0</text>
<text x="495.8" y="125.1" text-anchor="start" font-size="5" font-weight="bold" fill="#000" stroke="#000" stroke-width="0.1">10</text>
<text x="501.5" y="121" text-anchor="start" font-size="4.25" font-weight="bold" fill="#000" stroke="#000" stroke-width="0.1">1</text>
<text x="522.3" y="125.1" text-anchor="start" font-size="5" font-weight="bold" fill="#000" stroke="#000" stroke-width="0.1">10</text>
<text x="528" y="121" text-anchor="start" font-size="4.25" font-weight="bold" fill="#000" stroke="#000" stroke-width="0.1">2</text>
<text x="548.2" y="125.1" text-anchor="start" font-size="5" font-weight="bold" fill="#000" stroke="#000" stroke-width="0.1">10</text>
<text x="553.9" y="121" text-anchor="start" font-size="4.25" font-weight="bold" fill="#000" stroke="#000" stroke-width="0.1">3</text>
<text x="567.5" y="125.1" text-anchor="start" font-size="5" font-weight="bold" fill="#000" stroke="#000" stroke-width="0.1">10</text>
<text x="573.2" y="121" text-anchor="start" font-size="4.25" font-weight="bold" fill="#000" stroke="#000" stroke-width="0.1">4</text>
<text x="524.7" y="133.1" text-anchor="middle" font-size="5.6" font-weight="bold" fill="#000" stroke="#000" stroke-width="0.1">FL1-A :: FL1-A</text>
<text x="569.8" y="145.3" text-anchor="start" font-size="8.3" font-weight="normal" fill="#000" stroke="#000" stroke-width="0.06">H1299</text>
<rect x="470.7" y="156.5" width="105.3" height="108" fill="#fff" stroke="#c4c4c4" stroke-width="1"/>
<path d="M470.5,192.1 C470.68,191.98 471.25,191.4 471.6,191.4 C471.95,191.4 472.1,192.23 472.6,192.1 C473.1,191.97 473.93,191.35 474.6,190.6 C475.27,189.85 475.92,188.95 476.6,187.6 C477.28,186.25 478.1,184.45 478.7,182.5 C479.3,180.55 479.7,177.93 480.2,175.9 C480.7,173.87 481.2,171.48 481.7,170.3 C482.2,169.12 482.77,169.48 483.2,168.8 C483.63,168.12 483.92,166.97 484.3,166.2 C484.68,165.43 485.08,164.2 485.5,164.2 C485.92,164.2 486.33,164.93 486.8,166.2 C487.27,167.47 487.78,169.93 488.3,171.8 C488.82,173.67 489.3,175.62 489.9,177.4 C490.5,179.18 491.23,180.98 491.9,182.5 C492.57,184.02 493.13,185.15 493.9,186.5 C494.67,187.85 495.57,189.55 496.5,190.6 C497.43,191.65 498.32,192.28 499.5,192.8 C500.68,193.32 502.42,193.53 503.6,193.7 C504.78,193.87 506.1,193.78 506.6,193.8 L506.6,193.8 L470.5,193.8 Z" fill="#808080" fill-opacity="0.42" stroke="none"/>
<line x1="470.7" y1="193.8" x2="576" y2="193.8" stroke="#4a4a4a" stroke-width="0.8" stroke-opacity="0.55"/>
<path d="M470.5,192.1 C470.68,191.98 471.25,191.4 471.6,191.4 C471.95,191.4 472.1,192.23 472.6,192.1 C473.1,191.97 473.93,191.35 474.6,190.6 C475.27,189.85 475.92,188.95 476.6,187.6 C477.28,186.25 478.1,184.45 478.7,182.5 C479.3,180.55 479.7,177.93 480.2,175.9 C480.7,173.87 481.2,171.48 481.7,170.3 C482.2,169.12 482.77,169.48 483.2,168.8 C483.63,168.12 483.92,166.97 484.3,166.2 C484.68,165.43 485.08,164.2 485.5,164.2 C485.92,164.2 486.33,164.93 486.8,166.2 C487.27,167.47 487.78,169.93 488.3,171.8 C488.82,173.67 489.3,175.62 489.9,177.4 C490.5,179.18 491.23,180.98 491.9,182.5 C492.57,184.02 493.13,185.15 493.9,186.5 C494.67,187.85 495.57,189.55 496.5,190.6 C497.43,191.65 498.32,192.28 499.5,192.8 C500.68,193.32 502.42,193.53 503.6,193.7 C504.78,193.87 506.1,193.78 506.6,193.8" fill="none" stroke="#4a4a4a" stroke-width="0.9" stroke-linejoin="round"/>
<path d="M470.5,207.9 C470.68,208.15 471.17,209.32 471.6,209.4 C472.03,209.48 472.52,209.17 473.1,208.4 C473.68,207.63 474.43,206.25 475.1,204.8 C475.77,203.35 476.42,201.73 477.1,199.7 C477.78,197.67 478.52,194.97 479.2,192.6 C479.88,190.23 480.62,187.27 481.2,185.5 C481.78,183.73 482.27,182.7 482.7,182 C483.13,181.3 483.37,181.22 483.8,181.3 C484.23,181.38 484.72,181.8 485.3,182.5 C485.88,183.2 486.63,184.15 487.3,185.5 C487.97,186.85 488.62,188.9 489.3,190.6 C489.98,192.3 490.72,194 491.4,195.7 C492.08,197.4 492.65,199.12 493.4,200.8 C494.15,202.48 495.05,204.37 495.9,205.8 C496.75,207.23 497.38,208.47 498.5,209.4 C499.62,210.33 501.25,211.02 502.6,211.4 C503.95,211.78 505.93,211.65 506.6,211.7 L506.6,211.7 L470.5,211.7 Z" fill="#ff00ff" fill-opacity="0.22" stroke="none"/>
<line x1="470.7" y1="211.7" x2="576" y2="211.7" stroke="#f040f0" stroke-width="0.8" stroke-opacity="0.55"/>
<path d="M470.5,207.9 C470.68,208.15 471.17,209.32 471.6,209.4 C472.03,209.48 472.52,209.17 473.1,208.4 C473.68,207.63 474.43,206.25 475.1,204.8 C475.77,203.35 476.42,201.73 477.1,199.7 C477.78,197.67 478.52,194.97 479.2,192.6 C479.88,190.23 480.62,187.27 481.2,185.5 C481.78,183.73 482.27,182.7 482.7,182 C483.13,181.3 483.37,181.22 483.8,181.3 C484.23,181.38 484.72,181.8 485.3,182.5 C485.88,183.2 486.63,184.15 487.3,185.5 C487.97,186.85 488.62,188.9 489.3,190.6 C489.98,192.3 490.72,194 491.4,195.7 C492.08,197.4 492.65,199.12 493.4,200.8 C494.15,202.48 495.05,204.37 495.9,205.8 C496.75,207.23 497.38,208.47 498.5,209.4 C499.62,210.33 501.25,211.02 502.6,211.4 C503.95,211.78 505.93,211.65 506.6,211.7" fill="none" stroke="#f040f0" stroke-width="0.9" stroke-linejoin="round"/>
<path d="M471,229 C471.48,228.87 473.02,228.7 473.9,228.2 C474.78,227.7 475.5,227.15 476.3,226 C477.1,224.85 478.02,223.07 478.7,221.3 C479.38,219.53 479.82,217.57 480.4,215.4 C480.98,213.23 481.6,210.37 482.2,208.3 C482.8,206.23 483.45,204.28 484,203 C484.55,201.72 485.02,200.8 485.5,200.6 C485.98,200.4 486.27,200.92 486.9,201.8 C487.53,202.68 488.5,204.42 489.3,205.9 C490.1,207.38 490.92,209.22 491.7,210.7 C492.48,212.18 493.22,213.43 494,214.8 C494.78,216.17 495.5,217.52 496.4,218.9 C497.3,220.28 498.42,221.92 499.4,223.1 C500.38,224.28 501.22,225.15 502.3,226 C503.38,226.85 504.52,227.68 505.9,228.2 C507.28,228.72 509.82,228.95 510.6,229.1 L510.6,229.1 L471,229.1 Z" fill="#ff8000" fill-opacity="0.2" stroke="none"/>
<line x1="470.7" y1="229.1" x2="576" y2="229.1" stroke="#f9a055" stroke-width="0.8" stroke-opacity="0.55"/>
<path d="M471,229 C471.48,228.87 473.02,228.7 473.9,228.2 C474.78,227.7 475.5,227.15 476.3,226 C477.1,224.85 478.02,223.07 478.7,221.3 C479.38,219.53 479.82,217.57 480.4,215.4 C480.98,213.23 481.6,210.37 482.2,208.3 C482.8,206.23 483.45,204.28 484,203 C484.55,201.72 485.02,200.8 485.5,200.6 C485.98,200.4 486.27,200.92 486.9,201.8 C487.53,202.68 488.5,204.42 489.3,205.9 C490.1,207.38 490.92,209.22 491.7,210.7 C492.48,212.18 493.22,213.43 494,214.8 C494.78,216.17 495.5,217.52 496.4,218.9 C497.3,220.28 498.42,221.92 499.4,223.1 C500.38,224.28 501.22,225.15 502.3,226 C503.38,226.85 504.52,227.68 505.9,228.2 C507.28,228.72 509.82,228.95 510.6,229.1" fill="none" stroke="#f9a055" stroke-width="0.9" stroke-linejoin="round"/>
<path d="M471,246.2 C471.38,246 472.42,245.8 473.3,245 C474.18,244.2 475.4,242.98 476.3,241.4 C477.2,239.82 478.02,237.67 478.7,235.5 C479.38,233.33 479.82,230.57 480.4,228.4 C480.98,226.23 481.5,224.18 482.2,222.5 C482.9,220.82 483.97,219.18 484.6,218.3 C485.23,217.42 485.52,217.1 486,217.2 C486.48,217.3 486.95,218.02 487.5,218.9 C488.05,219.78 488.6,221.12 489.3,222.5 C490,223.88 490.92,225.72 491.7,227.2 C492.48,228.68 493.12,230.02 494,231.4 C494.88,232.78 496,233.93 497,235.5 C498,237.07 498.92,239.42 500,240.8 C501.08,242.18 502.13,243 503.5,243.8 C504.87,244.6 506.62,245.05 508.2,245.6 C509.78,246.15 511.42,246.83 513,247.1 C514.58,247.37 516.92,247.18 517.7,247.2 L517.7,247.2 L471,247.2 Z" fill="#ff0000" fill-opacity="0.24" stroke="none"/>
<line x1="470.7" y1="247.2" x2="576" y2="247.2" stroke="#f04545" stroke-width="0.8" stroke-opacity="0.55"/>
<path d="M471,246.2 C471.38,246 472.42,245.8 473.3,245 C474.18,244.2 475.4,242.98 476.3,241.4 C477.2,239.82 478.02,237.67 478.7,235.5 C479.38,233.33 479.82,230.57 480.4,228.4 C480.98,226.23 481.5,224.18 482.2,222.5 C482.9,220.82 483.97,219.18 484.6,218.3 C485.23,217.42 485.52,217.1 486,217.2 C486.48,217.3 486.95,218.02 487.5,218.9 C488.05,219.78 488.6,221.12 489.3,222.5 C490,223.88 490.92,225.72 491.7,227.2 C492.48,228.68 493.12,230.02 494,231.4 C494.88,232.78 496,233.93 497,235.5 C498,237.07 498.92,239.42 500,240.8 C501.08,242.18 502.13,243 503.5,243.8 C504.87,244.6 506.62,245.05 508.2,245.6 C509.78,246.15 511.42,246.83 513,247.1 C514.58,247.37 516.92,247.18 517.7,247.2" fill="none" stroke="#f04545" stroke-width="0.9" stroke-linejoin="round"/>
<path d="M471,264.4 C471.68,264.22 474.02,263.97 475.1,263.3 C476.18,262.63 476.72,261.68 477.5,260.4 C478.28,259.12 479.02,257.58 479.8,255.6 C480.58,253.62 481.5,250.67 482.2,248.5 C482.9,246.33 483.4,244.17 484,242.6 C484.6,241.03 485.22,240.18 485.8,239.1 C486.38,238.02 487.02,236.7 487.5,236.1 C487.98,235.5 488.2,235.3 488.7,235.5 C489.2,235.7 489.9,236.12 490.5,237.3 C491.1,238.48 491.62,240.73 492.3,242.6 C492.98,244.47 493.82,246.72 494.6,248.5 C495.38,250.28 496.2,251.82 497,253.3 C497.8,254.78 498.52,256.13 499.4,257.4 C500.28,258.67 501.22,259.92 502.3,260.9 C503.38,261.88 504.52,262.72 505.9,263.3 C507.28,263.88 509.82,264.22 510.6,264.4 L510.6,264.4 L471,264.4 Z" fill="#00c8c8" fill-opacity="0.25" stroke="none"/>
<line x1="470.7" y1="264.4" x2="576" y2="264.4" stroke="#45d0d0" stroke-width="0.8" stroke-opacity="0.55"/>
<path d="M471,264.4 C471.68,264.22 474.02,263.97 475.1,263.3 C476.18,262.63 476.72,261.68 477.5,260.4 C478.28,259.12 479.02,257.58 479.8,255.6 C480.58,253.62 481.5,250.67 482.2,248.5 C482.9,246.33 483.4,244.17 484,242.6 C484.6,241.03 485.22,240.18 485.8,239.1 C486.38,238.02 487.02,236.7 487.5,236.1 C487.98,235.5 488.2,235.3 488.7,235.5 C489.2,235.7 489.9,236.12 490.5,237.3 C491.1,238.48 491.62,240.73 492.3,242.6 C492.98,244.47 493.82,246.72 494.6,248.5 C495.38,250.28 496.2,251.82 497,253.3 C497.8,254.78 498.52,256.13 499.4,257.4 C500.28,258.67 501.22,259.92 502.3,260.9 C503.38,261.88 504.52,262.72 505.9,263.3 C507.28,263.88 509.82,264.22 510.6,264.4" fill="none" stroke="#45d0d0" stroke-width="0.9" stroke-linejoin="round"/>
<line x1="470.7" y1="156.5" x2="470.7" y2="264.5" stroke="#999" stroke-width="0.9"/>
<line x1="472.5" y1="264.5" x2="472.5" y2="265.4" stroke="#666" stroke-width="0.5"/>
<line x1="474" y1="264.5" x2="474" y2="265.4" stroke="#666" stroke-width="0.5"/>
<line x1="475.5" y1="264.5" x2="475.5" y2="265.4" stroke="#666" stroke-width="0.5"/>
<line x1="477" y1="264.5" x2="477" y2="265.4" stroke="#666" stroke-width="0.5"/>
<line x1="479" y1="264.5" x2="479" y2="265.4" stroke="#666" stroke-width="0.5"/>
<line x1="481" y1="264.5" x2="481" y2="265.4" stroke="#666" stroke-width="0.5"/>
<line x1="483" y1="264.5" x2="483" y2="265.4" stroke="#666" stroke-width="0.5"/>
<line x1="485" y1="264.5" x2="485" y2="265.4" stroke="#666" stroke-width="0.5"/>
<line x1="487" y1="264.5" x2="487" y2="265.4" stroke="#666" stroke-width="0.5"/>
<line x1="489" y1="264.5" x2="489" y2="265.4" stroke="#666" stroke-width="0.5"/>
<line x1="491" y1="264.5" x2="491" y2="265.4" stroke="#666" stroke-width="0.5"/>
<line x1="493" y1="264.5" x2="493" y2="265.4" stroke="#666" stroke-width="0.5"/>
<line x1="495" y1="264.5" x2="495" y2="265.4" stroke="#666" stroke-width="0.5"/>
<line x1="498" y1="264.5" x2="498" y2="265.4" stroke="#666" stroke-width="0.5"/>
<line x1="508" y1="264.5" x2="508" y2="265.4" stroke="#666" stroke-width="0.5"/>
<line x1="513" y1="264.5" x2="513" y2="265.4" stroke="#666" stroke-width="0.5"/>
<line x1="517" y1="264.5" x2="517" y2="265.4" stroke="#666" stroke-width="0.5"/>
<line x1="520" y1="264.5" x2="520" y2="265.4" stroke="#666" stroke-width="0.5"/>
<line x1="523" y1="264.5" x2="523" y2="265.4" stroke="#666" stroke-width="0.5"/>
<line x1="526" y1="264.5" x2="526" y2="265.4" stroke="#666" stroke-width="0.5"/>
<line x1="533" y1="264.5" x2="533" y2="265.4" stroke="#666" stroke-width="0.5"/>
<line x1="538" y1="264.5" x2="538" y2="265.4" stroke="#666" stroke-width="0.5"/>
<line x1="542" y1="264.5" x2="542" y2="265.4" stroke="#666" stroke-width="0.5"/>
<line x1="545" y1="264.5" x2="545" y2="265.4" stroke="#666" stroke-width="0.5"/>
<line x1="548" y1="264.5" x2="548" y2="265.4" stroke="#666" stroke-width="0.5"/>
<line x1="551" y1="264.5" x2="551" y2="265.4" stroke="#666" stroke-width="0.5"/>
<line x1="558" y1="264.5" x2="558" y2="265.4" stroke="#666" stroke-width="0.5"/>
<line x1="563" y1="264.5" x2="563" y2="265.4" stroke="#666" stroke-width="0.5"/>
<line x1="566" y1="264.5" x2="566" y2="265.4" stroke="#666" stroke-width="0.5"/>
<line x1="569" y1="264.5" x2="569" y2="265.4" stroke="#666" stroke-width="0.5"/>
<line x1="571" y1="264.5" x2="571" y2="265.4" stroke="#666" stroke-width="0.5"/>
<line x1="573" y1="264.5" x2="573" y2="265.4" stroke="#666" stroke-width="0.5"/>
<text x="571.3" y="190.7" text-anchor="end" font-size="5.5" font-weight="bold" fill="#222" stroke="#222" stroke-width="0.1">Control</text>
<text x="571.3" y="208.4" text-anchor="end" font-size="5.5" font-weight="bold" fill="#f040f0" stroke="#f040f0" stroke-width="0.1">Gas</text>
<text x="571.3" y="226.2" text-anchor="end" font-size="5.5" font-weight="bold" fill="#f9a055" stroke="#f9a055" stroke-width="0.1">60 s</text>
<text x="571.3" y="244" text-anchor="end" font-size="5.5" font-weight="bold" fill="#f04545" stroke="#f04545" stroke-width="0.1">120 s</text>
<text x="571.3" y="261.7" text-anchor="end" font-size="5.5" font-weight="bold" fill="#45d0d0" stroke="#45d0d0" stroke-width="0.1">180 s</text>
<text x="472" y="274" text-anchor="start" font-size="5" font-weight="bold" fill="#000" stroke="#000" stroke-width="0.1">10</text>
<text x="477.7" y="269.9" text-anchor="start" font-size="4.25" font-weight="bold" fill="#000" stroke="#000" stroke-width="0.1">0</text>
<text x="495.8" y="274" text-anchor="start" font-size="5" font-weight="bold" fill="#000" stroke="#000" stroke-width="0.1">10</text>
<text x="501.5" y="269.9" text-anchor="start" font-size="4.25" font-weight="bold" fill="#000" stroke="#000" stroke-width="0.1">1</text>
<text x="522.3" y="274" text-anchor="start" font-size="5" font-weight="bold" fill="#000" stroke="#000" stroke-width="0.1">10</text>
<text x="528" y="269.9" text-anchor="start" font-size="4.25" font-weight="bold" fill="#000" stroke="#000" stroke-width="0.1">2</text>
<text x="548.2" y="274" text-anchor="start" font-size="5" font-weight="bold" fill="#000" stroke="#000" stroke-width="0.1">10</text>
<text x="553.9" y="269.9" text-anchor="start" font-size="4.25" font-weight="bold" fill="#000" stroke="#000" stroke-width="0.1">3</text>
<text x="567.5" y="274" text-anchor="start" font-size="5" font-weight="bold" fill="#000" stroke="#000" stroke-width="0.1">10</text>
<text x="573.2" y="269.9" text-anchor="start" font-size="4.25" font-weight="bold" fill="#000" stroke="#000" stroke-width="0.1">4</text>
<text x="524.7" y="282" text-anchor="middle" font-size="5.6" font-weight="bold" fill="#000" stroke="#000" stroke-width="0.1">FL1-A :: FL1-A</text>
<text x="571.4" y="292.9" text-anchor="start" font-size="8.3" font-weight="normal" fill="#000" stroke="#000" stroke-width="0.06">A549</text>
<line x1="602.6" y1="33.5" x2="602.6" y2="105.05" stroke="#000" stroke-width="0.9"/>
<line x1="602.15" y1="104.6" x2="684" y2="104.6" stroke="#000" stroke-width="0.9"/>
<line x1="600.1" y1="104.6" x2="602.6" y2="104.6" stroke="#000" stroke-width="0.9"/>
<text x="599.3" y="106.73" text-anchor="end" font-size="5.6" font-weight="bold" fill="#000" stroke="#000" stroke-width="0.1">0</text>
<line x1="600.1" y1="80.9" x2="602.6" y2="80.9" stroke="#000" stroke-width="0.9"/>
<text x="599.3" y="83.03" text-anchor="end" font-size="5.6" font-weight="bold" fill="#000" stroke="#000" stroke-width="0.1">20</text>
<line x1="600.1" y1="57.2" x2="602.6" y2="57.2" stroke="#000" stroke-width="0.9"/>
<text x="599.3" y="59.33" text-anchor="end" font-size="5.6" font-weight="bold" fill="#000" stroke="#000" stroke-width="0.1">40</text>
<line x1="600.1" y1="33.5" x2="602.6" y2="33.5" stroke="#000" stroke-width="0.9"/>
<text x="599.3" y="35.63" text-anchor="end" font-size="5.6" font-weight="bold" fill="#000" stroke="#000" stroke-width="0.1">60</text>
<rect x="605.5" y="99.4" width="9.9" height="5.2" fill="#fff" stroke="#000" stroke-width="0.9"/>
<line x1="610.45" y1="104.6" x2="610.45" y2="106.8" stroke="#000" stroke-width="0.9"/>
<line x1="626.45" y1="99.6" x2="626.45" y2="100.5" stroke="#000" stroke-width="0.9"/>
<line x1="623.95" y1="99.6" x2="628.95" y2="99.6" stroke="#000" stroke-width="0.9"/>
<rect x="621.3" y="100.5" width="10.3" height="4.1" fill="#999" stroke="#000" stroke-width="0.9"/>
<line x1="626.45" y1="104.6" x2="626.45" y2="106.8" stroke="#000" stroke-width="0.9"/>
<line x1="642.55" y1="49.7" x2="642.55" y2="54.4" stroke="#000" stroke-width="0.9"/>
<line x1="640.05" y1="49.7" x2="645.05" y2="49.7" stroke="#000" stroke-width="0.9"/>
<rect x="637.7" y="54.4" width="9.7" height="50.2" fill="#000" stroke="#000" stroke-width="0.9"/>
<line x1="642.55" y1="104.6" x2="642.55" y2="106.8" stroke="#000" stroke-width="0.9"/>
<line x1="658.45" y1="46.2" x2="658.45" y2="55.3" stroke="#000" stroke-width="0.9"/>
<line x1="655.95" y1="46.2" x2="660.95" y2="46.2" stroke="#000" stroke-width="0.9"/>
<rect x="653.5" y="55.3" width="9.9" height="49.3" fill="#000" stroke="#000" stroke-width="0.9"/>
<line x1="658.45" y1="104.6" x2="658.45" y2="106.8" stroke="#000" stroke-width="0.9"/>
<line x1="674.65" y1="64.8" x2="674.65" y2="67" stroke="#000" stroke-width="0.9"/>
<line x1="672.15" y1="64.8" x2="677.15" y2="64.8" stroke="#000" stroke-width="0.9"/>
<rect x="669.7" y="67" width="9.9" height="37.6" fill="#000" stroke="#000" stroke-width="0.9"/>
<line x1="674.65" y1="104.6" x2="674.65" y2="106.8" stroke="#000" stroke-width="0.9"/>
<polyline points="610.3,96.3 610.3,38.2 659.1,38.2 659.1,42.5" fill="none" stroke="#000" stroke-width="0.8"/>
<line x1="637.3" y1="42.5" x2="681" y2="42.5" stroke="#000" stroke-width="0.8"/>
<text x="634.6" y="38.2" text-anchor="middle" font-size="7" font-weight="bold" fill="#000" stroke="#000" stroke-width="0.1">*</text>
<text x="610.8" y="112.8" text-anchor="middle" font-size="5.9" font-weight="bold" fill="#000" stroke="#000" stroke-width="0.1">Con</text>
<text x="627.2" y="112.8" text-anchor="middle" font-size="5.9" font-weight="bold" fill="#000" stroke="#000" stroke-width="0.1">Gas</text>
<text x="643.5" y="112.8" text-anchor="middle" font-size="5.9" font-weight="bold" fill="#000" stroke="#000" stroke-width="0.1">60 s</text>
<text x="661.2" y="112.8" text-anchor="middle" font-size="5.9" font-weight="bold" fill="#000" stroke="#000" stroke-width="0.1">120 s</text>
<text x="677.5" y="112.8" text-anchor="middle" font-size="5.9" font-weight="bold" fill="#000" stroke="#000" stroke-width="0.1">180 s</text>
<text transform="translate(590,69) rotate(-90)" text-anchor="middle" font-size="6.9" font-weight="bold" fill="#000" stroke="#000" stroke-width="0.1">% of oxidized C11 BODIPY</text>
<line x1="602.7" y1="181.5" x2="602.7" y2="253.25" stroke="#000" stroke-width="0.9"/>
<line x1="602.25" y1="252.8" x2="684" y2="252.8" stroke="#000" stroke-width="0.9"/>
<line x1="600.2" y1="252.8" x2="602.7" y2="252.8" stroke="#000" stroke-width="0.9"/>
<text x="599.4" y="254.93" text-anchor="end" font-size="5.6" font-weight="bold" fill="#000" stroke="#000" stroke-width="0.1">0</text>
<line x1="600.2" y1="238.54" x2="602.7" y2="238.54" stroke="#000" stroke-width="0.9"/>
<text x="599.4" y="240.67" text-anchor="end" font-size="5.6" font-weight="bold" fill="#000" stroke="#000" stroke-width="0.1">5</text>
<line x1="600.2" y1="224.28" x2="602.7" y2="224.28" stroke="#000" stroke-width="0.9"/>
<text x="599.4" y="226.41" text-anchor="end" font-size="5.6" font-weight="bold" fill="#000" stroke="#000" stroke-width="0.1">10</text>
<line x1="600.2" y1="210.02" x2="602.7" y2="210.02" stroke="#000" stroke-width="0.9"/>
<text x="599.4" y="212.15" text-anchor="end" font-size="5.6" font-weight="bold" fill="#000" stroke="#000" stroke-width="0.1">15</text>
<line x1="600.2" y1="195.76" x2="602.7" y2="195.76" stroke="#000" stroke-width="0.9"/>
<text x="599.4" y="197.89" text-anchor="end" font-size="5.6" font-weight="bold" fill="#000" stroke="#000" stroke-width="0.1">20</text>
<line x1="600.2" y1="181.5" x2="602.7" y2="181.5" stroke="#000" stroke-width="0.9"/>
<text x="599.4" y="183.63" text-anchor="end" font-size="5.6" font-weight="bold" fill="#000" stroke="#000" stroke-width="0.1">25</text>
<line x1="610.25" y1="238" x2="610.25" y2="240.9" stroke="#000" stroke-width="0.9"/>
<line x1="607.75" y1="238" x2="612.75" y2="238" stroke="#000" stroke-width="0.9"/>
<rect x="605.3" y="240.9" width="9.9" height="11.9" fill="#fff" stroke="#000" stroke-width="0.9"/>
<line x1="610.25" y1="252.8" x2="610.25" y2="255" stroke="#000" stroke-width="0.9"/>
<line x1="626.2" y1="237.4" x2="626.2" y2="239.1" stroke="#000" stroke-width="0.9"/>
<line x1="623.7" y1="237.4" x2="628.7" y2="237.4" stroke="#000" stroke-width="0.9"/>
<rect x="621.4" y="239.1" width="9.6" height="13.7" fill="#999" stroke="#000" stroke-width="0.9"/>
<line x1="626.2" y1="252.8" x2="626.2" y2="255" stroke="#000" stroke-width="0.9"/>
<line x1="642.15" y1="215.6" x2="642.15" y2="220.9" stroke="#000" stroke-width="0.9"/>
<line x1="639.65" y1="215.6" x2="644.65" y2="215.6" stroke="#000" stroke-width="0.9"/>
<rect x="637.2" y="220.9" width="9.9" height="31.9" fill="#000" stroke="#000" stroke-width="0.9"/>
<line x1="642.15" y1="252.8" x2="642.15" y2="255" stroke="#000" stroke-width="0.9"/>
<line x1="658.25" y1="200.6" x2="658.25" y2="205.9" stroke="#000" stroke-width="0.9"/>
<line x1="655.75" y1="200.6" x2="660.75" y2="200.6" stroke="#000" stroke-width="0.9"/>
<rect x="653.3" y="205.9" width="9.9" height="46.9" fill="#000" stroke="#000" stroke-width="0.9"/>
<line x1="658.25" y1="252.8" x2="658.25" y2="255" stroke="#000" stroke-width="0.9"/>
<line x1="674.1" y1="196.4" x2="674.1" y2="203.3" stroke="#000" stroke-width="0.9"/>
<line x1="671.6" y1="196.4" x2="676.6" y2="196.4" stroke="#000" stroke-width="0.9"/>
<rect x="669.1" y="203.3" width="10" height="49.5" fill="#000" stroke="#000" stroke-width="0.9"/>
<line x1="674.1" y1="252.8" x2="674.1" y2="255" stroke="#000" stroke-width="0.9"/>
<polyline points="610.2,238 610.2,184.8 658.8,184.8 658.8,191.8" fill="none" stroke="#000" stroke-width="0.8"/>
<line x1="637.2" y1="191.8" x2="680.8" y2="191.8" stroke="#000" stroke-width="0.8"/>
<text x="634.4" y="185" text-anchor="middle" font-size="7" font-weight="bold" fill="#000" stroke="#000" stroke-width="0.1">**</text>
<text x="610.3" y="260.3" text-anchor="middle" font-size="5.9" font-weight="bold" fill="#000" stroke="#000" stroke-width="0.1">Con</text>
<text x="626.2" y="260.3" text-anchor="middle" font-size="5.9" font-weight="bold" fill="#000" stroke="#000" stroke-width="0.1">Gas</text>
<text x="642.2" y="260.3" text-anchor="middle" font-size="5.9" font-weight="bold" fill="#000" stroke="#000" stroke-width="0.1">60 s</text>
<text x="658.9" y="260.3" text-anchor="middle" font-size="5.9" font-weight="bold" fill="#000" stroke="#000" stroke-width="0.1">120 s</text>
<text x="675.5" y="260.3" text-anchor="middle" font-size="5.9" font-weight="bold" fill="#000" stroke="#000" stroke-width="0.1">180 s</text>
<text transform="translate(590.5,217) rotate(-90)" text-anchor="middle" font-size="6.8" font-weight="bold" fill="#000" stroke="#000" stroke-width="0.1">% of oxidized C11 BODIPY</text>
<rect x="45.5" y="317.3" width="90.1" height="96.6" fill="#fff" stroke="#a8a8a8" stroke-width="1"/>
<line x1="45.5" y1="317.3" x2="45.5" y2="413.9" stroke="#8a8a8a" stroke-width="0.7"/>
<line x1="45.5" y1="413.9" x2="135.6" y2="413.9" stroke="#777" stroke-width="0.8"/>
<line x1="44.4" y1="323.32" x2="45.5" y2="323.32" stroke="#444" stroke-width="0.7"/>
<line x1="44.4" y1="329.35" x2="45.5" y2="329.35" stroke="#444" stroke-width="0.7"/>
<line x1="44.4" y1="335.38" x2="45.5" y2="335.38" stroke="#444" stroke-width="0.7"/>
<line x1="44.4" y1="347.42" x2="45.5" y2="347.42" stroke="#444" stroke-width="0.7"/>
<line x1="44.4" y1="353.45" x2="45.5" y2="353.45" stroke="#444" stroke-width="0.7"/>
<line x1="44.4" y1="359.48" x2="45.5" y2="359.48" stroke="#444" stroke-width="0.7"/>
<line x1="44.4" y1="371.52" x2="45.5" y2="371.52" stroke="#444" stroke-width="0.7"/>
<line x1="44.4" y1="377.55" x2="45.5" y2="377.55" stroke="#444" stroke-width="0.7"/>
<line x1="44.4" y1="383.58" x2="45.5" y2="383.58" stroke="#444" stroke-width="0.7"/>
<line x1="44.4" y1="395.62" x2="45.5" y2="395.62" stroke="#444" stroke-width="0.7"/>
<line x1="44.4" y1="401.65" x2="45.5" y2="401.65" stroke="#444" stroke-width="0.7"/>
<line x1="44.4" y1="407.68" x2="45.5" y2="407.68" stroke="#444" stroke-width="0.7"/>
<line x1="43.3" y1="317.3" x2="45.5" y2="317.3" stroke="#333" stroke-width="0.8"/>
<line x1="43.3" y1="341.4" x2="45.5" y2="341.4" stroke="#333" stroke-width="0.8"/>
<line x1="43.3" y1="365.5" x2="45.5" y2="365.5" stroke="#333" stroke-width="0.8"/>
<line x1="43.3" y1="389.6" x2="45.5" y2="389.6" stroke="#333" stroke-width="0.8"/>
<line x1="43.3" y1="413.7" x2="45.5" y2="413.7" stroke="#333" stroke-width="0.8"/>
<text x="42.5" y="321.6" text-anchor="end" font-size="5.6" font-weight="bold" fill="#000" stroke="#000" stroke-width="0.1">400</text>
<text x="42.5" y="343.6" text-anchor="end" font-size="5.6" font-weight="bold" fill="#000" stroke="#000" stroke-width="0.1">300</text>
<text x="42.5" y="367.6" text-anchor="end" font-size="5.6" font-weight="bold" fill="#000" stroke="#000" stroke-width="0.1">200</text>
<text x="42.5" y="391.6" text-anchor="end" font-size="5.6" font-weight="bold" fill="#000" stroke="#000" stroke-width="0.1">100</text>
<text x="42.5" y="414.2" text-anchor="end" font-size="5.6" font-weight="bold" fill="#000" stroke="#000" stroke-width="0.1">0</text>
<path d="M45.3,413.3 C46.23,413.18 49.22,413.22 50.9,412.6 C52.58,411.98 54.15,410.97 55.4,409.6 C56.65,408.23 57.53,407 58.4,404.4 C59.27,401.8 59.87,398.47 60.6,394 C61.33,389.53 62.18,383.3 62.8,377.6 C63.42,371.9 63.8,364.27 64.3,359.8 C64.8,355.33 65.3,353.03 65.8,350.8 C66.3,348.57 66.85,346.88 67.3,346.4 C67.75,345.92 68,346.17 68.5,347.9 C69,349.63 69.63,352.83 70.3,356.8 C70.97,360.77 71.77,366.25 72.5,371.7 C73.23,377.15 73.97,384.3 74.7,389.5 C75.43,394.7 76.15,399.67 76.9,402.9 C77.65,406.13 78.32,407.42 79.2,408.9 C80.08,410.38 80.97,411.12 82.2,411.8 C83.43,412.48 85.37,412.75 86.6,413 C87.83,413.25 89.1,413.25 89.6,413.3" fill="none" stroke="#ff2d2d" stroke-width="1" stroke-linejoin="round"/>
<path d="M45.3,413 C45.98,412.8 48.22,412.48 49.4,411.8 C50.58,411.12 51.4,410.88 52.4,408.9 C53.4,406.92 54.53,403.13 55.4,399.9 C56.27,396.67 56.9,393.72 57.6,389.5 C58.3,385.28 58.98,380.3 59.6,374.6 C60.22,368.9 60.77,360.63 61.3,355.3 C61.83,349.97 62.35,344.95 62.8,342.6 C63.25,340.25 63.62,341.32 64,341.2 C64.38,341.08 64.75,340.55 65.1,341.9 C65.45,343.25 65.68,345.58 66.1,349.3 C66.52,353.02 67.03,358.73 67.6,364.2 C68.17,369.67 68.8,376.63 69.5,382.1 C70.2,387.57 71.05,392.78 71.8,397 C72.55,401.22 73.27,404.93 74,407.4 C74.73,409.87 75.45,410.87 76.2,411.8 C76.95,412.73 78.12,412.8 78.5,413" fill="none" stroke="#2f3ff0" stroke-width="1" stroke-linejoin="round"/>
<path d="M45.3,411.8 C45.75,411.32 47.18,410.38 48,408.9 C48.82,407.42 49.47,405.63 50.2,402.9 C50.93,400.17 51.67,396.72 52.4,392.5 C53.13,388.28 53.85,383.55 54.6,377.6 C55.35,371.65 56.22,362.75 56.9,356.8 C57.58,350.85 58.25,344.43 58.7,341.9 C59.15,339.37 59.28,341.23 59.6,341.6 C59.92,341.97 60.18,342.07 60.6,344.1 C61.02,346.13 61.6,349.7 62.1,353.8 C62.6,357.9 63.1,363.25 63.6,368.7 C64.1,374.15 64.6,381.3 65.1,386.5 C65.6,391.7 65.98,396.17 66.6,399.9 C67.22,403.63 67.93,406.78 68.8,408.9 C69.67,411.02 70.93,411.87 71.8,412.6 C72.67,413.33 73.63,413.18 74,413.3" fill="none" stroke="#2a2a2a" stroke-width="1" stroke-linejoin="round"/>
<path d="M45.3,412.6 C45.62,412.23 46.52,412.02 47.2,410.4 C47.88,408.78 48.65,406.38 49.4,402.9 C50.15,399.42 50.95,394.45 51.7,389.5 C52.45,384.55 53.28,378.15 53.9,373.2 C54.52,368.25 54.9,364.27 55.4,359.8 C55.9,355.33 56.48,349.63 56.9,346.4 C57.32,343.17 57.53,341.15 57.9,340.4 C58.27,339.65 58.72,340.65 59.1,341.9 C59.48,343.15 59.83,344.92 60.2,347.9 C60.57,350.88 60.87,355.35 61.3,359.8 C61.73,364.25 62.3,369.65 62.8,374.6 C63.3,379.55 63.8,385.03 64.3,389.5 C64.8,393.97 65.3,398.05 65.8,401.4 C66.3,404.75 66.8,407.73 67.3,409.6 C67.8,411.47 68.18,411.98 68.8,412.6 C69.42,413.22 70.63,413.18 71,413.3" fill="none" stroke="#3ad23a" stroke-width="1" stroke-linejoin="round"/>
<line x1="65.7" y1="392.3" x2="101.2" y2="392.3" stroke="#333" stroke-width="0.9"/>
<line x1="65.7" y1="390.5" x2="65.7" y2="394.1" stroke="#333" stroke-width="0.8"/>
<line x1="101.2" y1="390.5" x2="101.2" y2="394.1" stroke="#333" stroke-width="0.8"/>
<text x="98" y="329" text-anchor="start" font-size="6.8" font-weight="bold" fill="#222" stroke="#222" stroke-width="0.1">Control</text>
<text x="98" y="339.2" text-anchor="start" font-size="6.8" font-weight="bold" fill="#8ed86c" stroke="#8ed86c" stroke-width="0.1">Fer-1</text>
<text x="98" y="349.3" text-anchor="start" font-size="6.8" font-weight="bold" fill="#ff2a2a" stroke="#ff2a2a" stroke-width="0.1">PAM</text>
<text x="98" y="359.7" text-anchor="start" font-size="6.8" font-weight="bold" fill="#2a78d2" stroke="#2a78d2" stroke-width="0.1">PAM+Fer-1</text>
<text x="47" y="424.8" text-anchor="start" font-size="5.3" font-weight="bold" fill="#000" stroke="#000" stroke-width="0.1">10</text>
<text x="53.04" y="420.45" text-anchor="start" font-size="4.5" font-weight="bold" fill="#000" stroke="#000" stroke-width="0.1">0</text>
<text x="67" y="424.8" text-anchor="start" font-size="5.3" font-weight="bold" fill="#000" stroke="#000" stroke-width="0.1">10</text>
<text x="73.04" y="420.45" text-anchor="start" font-size="4.5" font-weight="bold" fill="#000" stroke="#000" stroke-width="0.1">1</text>
<text x="89.6" y="424.8" text-anchor="start" font-size="5.3" font-weight="bold" fill="#000" stroke="#000" stroke-width="0.1">10</text>
<text x="95.64" y="420.45" text-anchor="start" font-size="4.5" font-weight="bold" fill="#000" stroke="#000" stroke-width="0.1">2</text>
<text x="112.3" y="424.8" text-anchor="start" font-size="5.3" font-weight="bold" fill="#000" stroke="#000" stroke-width="0.1">10</text>
<text x="118.34" y="420.45" text-anchor="start" font-size="4.5" font-weight="bold" fill="#000" stroke="#000" stroke-width="0.1">3</text>
<text x="127.6" y="424.8" text-anchor="start" font-size="5.3" font-weight="bold" fill="#000" stroke="#000" stroke-width="0.1">10</text>
<text x="133.64" y="420.45" text-anchor="start" font-size="4.5" font-weight="bold" fill="#000" stroke="#000" stroke-width="0.1">4</text>
<text x="92.2" y="435.8" text-anchor="middle" font-size="6.6" font-weight="bold" fill="#000" stroke="#000" stroke-width="0.1">FL1-A :: FL1-A</text>
<text x="129.7" y="448.2" text-anchor="start" font-size="8.7" font-weight="normal" fill="#000" stroke="#000" stroke-width="0.06">H1299</text>
<text transform="translate(30.2,371) rotate(-90)" text-anchor="middle" font-size="6.6" font-weight="bold" fill="#000" stroke="#000" stroke-width="0.1">Count</text>
<line x1="48" y1="413.9" x2="48" y2="414.7" stroke="#666" stroke-width="0.5"/>
<line x1="50" y1="413.9" x2="50" y2="414.7" stroke="#666" stroke-width="0.5"/>
<line x1="52" y1="413.9" x2="52" y2="414.7" stroke="#666" stroke-width="0.5"/>
<line x1="54" y1="413.9" x2="54" y2="414.7" stroke="#666" stroke-width="0.5"/>
<line x1="56" y1="413.9" x2="56" y2="414.7" stroke="#666" stroke-width="0.5"/>
<line x1="58" y1="413.9" x2="58" y2="414.7" stroke="#666" stroke-width="0.5"/>
<line x1="60" y1="413.9" x2="60" y2="414.7" stroke="#666" stroke-width="0.5"/>
<line x1="62" y1="413.9" x2="62" y2="414.7" stroke="#666" stroke-width="0.5"/>
<line x1="64" y1="413.9" x2="64" y2="414.7" stroke="#666" stroke-width="0.5"/>
<line x1="66" y1="413.9" x2="66" y2="414.7" stroke="#666" stroke-width="0.5"/>
<line x1="68" y1="413.9" x2="68" y2="414.7" stroke="#666" stroke-width="0.5"/>
<line x1="70" y1="413.9" x2="70" y2="414.7" stroke="#666" stroke-width="0.5"/>
<line x1="74" y1="413.9" x2="74" y2="414.7" stroke="#666" stroke-width="0.5"/>
<line x1="79" y1="413.9" x2="79" y2="414.7" stroke="#666" stroke-width="0.5"/>
<line x1="83" y1="413.9" x2="83" y2="414.7" stroke="#666" stroke-width="0.5"/>
<line x1="86" y1="413.9" x2="86" y2="414.7" stroke="#666" stroke-width="0.5"/>
<line x1="88" y1="413.9" x2="88" y2="414.7" stroke="#666" stroke-width="0.5"/>
<line x1="90" y1="413.9" x2="90" y2="414.7" stroke="#666" stroke-width="0.5"/>
<line x1="92" y1="413.9" x2="92" y2="414.7" stroke="#666" stroke-width="0.5"/>
<line x1="97" y1="413.9" x2="97" y2="414.7" stroke="#666" stroke-width="0.5"/>
<line x1="102" y1="413.9" x2="102" y2="414.7" stroke="#666" stroke-width="0.5"/>
<line x1="105" y1="413.9" x2="105" y2="414.7" stroke="#666" stroke-width="0.5"/>
<line x1="108" y1="413.9" x2="108" y2="414.7" stroke="#666" stroke-width="0.5"/>
<line x1="110" y1="413.9" x2="110" y2="414.7" stroke="#666" stroke-width="0.5"/>
<line x1="112" y1="413.9" x2="112" y2="414.7" stroke="#666" stroke-width="0.5"/>
<line x1="114" y1="413.9" x2="114" y2="414.7" stroke="#666" stroke-width="0.5"/>
<line x1="119" y1="413.9" x2="119" y2="414.7" stroke="#666" stroke-width="0.5"/>
<line x1="123" y1="413.9" x2="123" y2="414.7" stroke="#666" stroke-width="0.5"/>
<line x1="126" y1="413.9" x2="126" y2="414.7" stroke="#666" stroke-width="0.5"/>
<line x1="128" y1="413.9" x2="128" y2="414.7" stroke="#666" stroke-width="0.5"/>
<line x1="130" y1="413.9" x2="130" y2="414.7" stroke="#666" stroke-width="0.5"/>
<line x1="132" y1="413.9" x2="132" y2="414.7" stroke="#666" stroke-width="0.5"/>
<rect x="45.2" y="459.3" width="91.4" height="97.5" fill="#fff" stroke="#d4d4d4" stroke-width="1"/>
<line x1="45.2" y1="459.3" x2="45.2" y2="556.8" stroke="#c0c0c0" stroke-width="0.7"/>
<line x1="45.2" y1="556.8" x2="136.6" y2="556.8" stroke="#777" stroke-width="0.8"/>
<line x1="44.1" y1="481.7" x2="45.2" y2="481.7" stroke="#444" stroke-width="0.7"/>
<line x1="44.1" y1="485.7" x2="45.2" y2="485.7" stroke="#444" stroke-width="0.7"/>
<line x1="44.1" y1="489.7" x2="45.2" y2="489.7" stroke="#444" stroke-width="0.7"/>
<line x1="44.1" y1="493.7" x2="45.2" y2="493.7" stroke="#444" stroke-width="0.7"/>
<line x1="44.1" y1="501.68" x2="45.2" y2="501.68" stroke="#444" stroke-width="0.7"/>
<line x1="44.1" y1="505.66" x2="45.2" y2="505.66" stroke="#444" stroke-width="0.7"/>
<line x1="44.1" y1="509.64" x2="45.2" y2="509.64" stroke="#444" stroke-width="0.7"/>
<line x1="44.1" y1="513.62" x2="45.2" y2="513.62" stroke="#444" stroke-width="0.7"/>
<line x1="44.1" y1="521.58" x2="45.2" y2="521.58" stroke="#444" stroke-width="0.7"/>
<line x1="44.1" y1="525.56" x2="45.2" y2="525.56" stroke="#444" stroke-width="0.7"/>
<line x1="44.1" y1="529.54" x2="45.2" y2="529.54" stroke="#444" stroke-width="0.7"/>
<line x1="44.1" y1="533.52" x2="45.2" y2="533.52" stroke="#444" stroke-width="0.7"/>
<line x1="44.1" y1="541.48" x2="45.2" y2="541.48" stroke="#444" stroke-width="0.7"/>
<line x1="44.1" y1="545.46" x2="45.2" y2="545.46" stroke="#444" stroke-width="0.7"/>
<line x1="44.1" y1="549.44" x2="45.2" y2="549.44" stroke="#444" stroke-width="0.7"/>
<line x1="44.1" y1="553.42" x2="45.2" y2="553.42" stroke="#444" stroke-width="0.7"/>
<line x1="44.1" y1="473.7" x2="45.2" y2="473.7" stroke="#444" stroke-width="0.7"/>
<line x1="44.1" y1="469.7" x2="45.2" y2="469.7" stroke="#444" stroke-width="0.7"/>
<line x1="44.1" y1="465.7" x2="45.2" y2="465.7" stroke="#444" stroke-width="0.7"/>
<line x1="44.1" y1="461.7" x2="45.2" y2="461.7" stroke="#444" stroke-width="0.7"/>
<line x1="43" y1="477.7" x2="45.2" y2="477.7" stroke="#333" stroke-width="0.8"/>
<line x1="43" y1="497.7" x2="45.2" y2="497.7" stroke="#333" stroke-width="0.8"/>
<line x1="43" y1="517.6" x2="45.2" y2="517.6" stroke="#333" stroke-width="0.8"/>
<line x1="43" y1="537.5" x2="45.2" y2="537.5" stroke="#333" stroke-width="0.8"/>
<line x1="43" y1="557.4" x2="45.2" y2="557.4" stroke="#333" stroke-width="0.8"/>
<text x="42.2" y="479.8" text-anchor="end" font-size="5.6" font-weight="bold" fill="#000" stroke="#000" stroke-width="0.1">200</text>
<text x="42.2" y="499.5" text-anchor="end" font-size="5.6" font-weight="bold" fill="#000" stroke="#000" stroke-width="0.1">150</text>
<text x="42.2" y="519.4" text-anchor="end" font-size="5.6" font-weight="bold" fill="#000" stroke="#000" stroke-width="0.1">100</text>
<text x="42.2" y="539.2" text-anchor="end" font-size="5.6" font-weight="bold" fill="#000" stroke="#000" stroke-width="0.1">50</text>
<text x="42.2" y="556.6" text-anchor="end" font-size="5.6" font-weight="bold" fill="#000" stroke="#000" stroke-width="0.1">0</text>
<path d="M45.2,552.6 C45.6,552.73 46.8,554.33 47.6,553.4 C48.4,552.47 49.18,551.02 50,547 C50.82,542.98 51.82,535.47 52.5,529.3 C53.18,523.13 53.57,515.08 54.1,510 C54.63,504.92 55.17,502.82 55.7,498.8 C56.23,494.78 56.9,488.58 57.3,485.9 C57.7,483.22 57.75,482.7 58.1,482.7 C58.45,482.7 58.92,484.57 59.4,485.9 C59.88,487.23 60.47,489.37 61,490.7 C61.53,492.03 62.02,491.48 62.6,493.9 C63.18,496.32 63.78,501.17 64.5,505.2 C65.22,509.23 66.1,513.55 66.9,518.1 C67.7,522.65 68.5,528.48 69.3,532.5 C70.1,536.52 70.88,539.52 71.7,542.2 C72.52,544.88 73.25,546.73 74.2,548.6 C75.15,550.47 76.2,552.2 77.4,553.4 C78.6,554.6 80.07,555.27 81.4,555.8 C82.73,556.33 84.73,556.47 85.4,556.6" fill="none" stroke="#ff2d2d" stroke-width="1" stroke-linejoin="round"/>
<path d="M45.2,551.8 C45.47,551.93 46.27,553.13 46.8,552.6 C47.33,552.07 47.87,551.15 48.4,548.6 C48.93,546.05 49.47,541.85 50,537.3 C50.53,532.75 51.05,527.18 51.6,521.3 C52.15,515.42 52.75,507.9 53.3,502 C53.85,496.1 54.37,489.92 54.9,485.9 C55.43,481.88 55.97,479.63 56.5,477.9 C57.03,476.17 57.62,475.23 58.1,475.5 C58.58,475.77 59,476.97 59.4,479.5 C59.8,482.03 60.05,486.68 60.5,490.7 C60.95,494.72 61.43,499.03 62.1,503.6 C62.77,508.17 63.7,513.28 64.5,518.1 C65.3,522.92 66.1,527.95 66.9,532.5 C67.7,537.05 68.5,542.05 69.3,545.4 C70.1,548.75 70.75,550.87 71.7,552.6 C72.65,554.33 73.78,555.13 75,555.8 C76.22,556.47 78.33,556.47 79,556.6" fill="none" stroke="#2f3ff0" stroke-width="1" stroke-linejoin="round"/>
<path d="M45.2,538 C45.37,539.33 45.82,545.17 46.2,546 C46.58,546.83 47.03,544.83 47.5,543 C47.97,541.17 48.5,538.5 49,535 C49.5,531.5 50,527 50.5,522 C51,517 51.5,510.33 52,505 C52.5,499.67 53,494 53.5,490 C54,486 54.58,482.75 55,481 C55.42,479.25 55.67,479.33 56,479.5 C56.33,479.67 56.67,480.92 57,482 C57.33,483.08 57.62,483.67 58,486 C58.38,488.33 58.8,492 59.3,496 C59.8,500 60.5,505.33 61,510 C61.5,514.67 61.8,519.5 62.3,524 C62.8,528.5 63.47,533.17 64,537 C64.53,540.83 65,544.5 65.5,547 C66,549.5 66.25,550.58 67,552 C67.75,553.42 68.83,554.75 70,555.5 C71.17,556.25 73.33,556.33 74,556.5" fill="none" stroke="#3ad23a" stroke-width="1" stroke-linejoin="round"/>
<path d="M45.2,537.3 C45.25,538.12 45.37,540.58 45.5,542.2 C45.63,543.82 45.78,546.47 46,547 C46.22,547.53 46.4,547.02 46.8,545.4 C47.2,543.78 47.87,540.78 48.4,537.3 C48.93,533.82 49.47,529.85 50,524.5 C50.53,519.15 51.05,511.1 51.6,505.2 C52.15,499.3 52.75,493.38 53.3,489.1 C53.85,484.82 54.43,480.83 54.9,479.5 C55.37,478.17 55.7,481.37 56.1,481.1 C56.5,480.83 56.97,478.7 57.3,477.9 C57.63,477.1 57.83,475.77 58.1,476.3 C58.37,476.83 58.63,478.17 58.9,481.1 C59.17,484.03 59.3,489.62 59.7,493.9 C60.1,498.18 60.77,503.05 61.3,506.8 C61.83,510.55 62.37,513.18 62.9,516.4 C63.43,519.62 63.97,522.88 64.5,526.1 C65.03,529.32 65.57,532.75 66.1,535.7 C66.63,538.65 67.03,541.38 67.7,543.8 C68.37,546.22 69.15,548.33 70.1,550.2 C71.05,552.07 72.18,553.98 73.4,555 C74.62,556.02 76.73,556.08 77.4,556.3" fill="none" stroke="#2a2a2a" stroke-width="1" stroke-linejoin="round"/>
<line x1="67.9" y1="540.8" x2="103.8" y2="540.8" stroke="#333" stroke-width="0.9"/>
<line x1="67.9" y1="539" x2="67.9" y2="542.6" stroke="#333" stroke-width="0.8"/>
<line x1="103.8" y1="539" x2="103.8" y2="542.6" stroke="#333" stroke-width="0.8"/>
<text x="98" y="471.3" text-anchor="start" font-size="6.8" font-weight="bold" fill="#222" stroke="#222" stroke-width="0.1">Control</text>
<text x="98" y="481.1" text-anchor="start" font-size="6.8" font-weight="bold" fill="#8ed86c" stroke="#8ed86c" stroke-width="0.1">Fer-1</text>
<text x="98" y="491.3" text-anchor="start" font-size="6.8" font-weight="bold" fill="#ff2a2a" stroke="#ff2a2a" stroke-width="0.1">PAM</text>
<text x="98" y="501.2" text-anchor="start" font-size="6.8" font-weight="bold" fill="#2a78d2" stroke="#2a78d2" stroke-width="0.1">PAM+Fer-1</text>
<text x="47" y="568" text-anchor="start" font-size="5.3" font-weight="bold" fill="#000" stroke="#000" stroke-width="0.1">10</text>
<text x="53.04" y="563.65" text-anchor="start" font-size="4.5" font-weight="bold" fill="#000" stroke="#000" stroke-width="0.1">0</text>
<text x="67" y="568" text-anchor="start" font-size="5.3" font-weight="bold" fill="#000" stroke="#000" stroke-width="0.1">10</text>
<text x="73.04" y="563.65" text-anchor="start" font-size="4.5" font-weight="bold" fill="#000" stroke="#000" stroke-width="0.1">1</text>
<text x="89.6" y="568" text-anchor="start" font-size="5.3" font-weight="bold" fill="#000" stroke="#000" stroke-width="0.1">10</text>
<text x="95.64" y="563.65" text-anchor="start" font-size="4.5" font-weight="bold" fill="#000" stroke="#000" stroke-width="0.1">2</text>
<text x="112.3" y="568" text-anchor="start" font-size="5.3" font-weight="bold" fill="#000" stroke="#000" stroke-width="0.1">10</text>
<text x="118.34" y="563.65" text-anchor="start" font-size="4.5" font-weight="bold" fill="#000" stroke="#000" stroke-width="0.1">3</text>
<text x="127.6" y="568" text-anchor="start" font-size="5.3" font-weight="bold" fill="#000" stroke="#000" stroke-width="0.1">10</text>
<text x="133.64" y="563.65" text-anchor="start" font-size="4.5" font-weight="bold" fill="#000" stroke="#000" stroke-width="0.1">4</text>
<text x="92.2" y="578.3" text-anchor="middle" font-size="6.6" font-weight="bold" fill="#000" stroke="#000" stroke-width="0.1">FL1-A :: FL1-A</text>
<text x="131.5" y="590.7" text-anchor="start" font-size="8.7" font-weight="normal" fill="#000" stroke="#000" stroke-width="0.06">A549</text>
<text transform="translate(30.2,512) rotate(-90)" text-anchor="middle" font-size="6.6" font-weight="bold" fill="#000" stroke="#000" stroke-width="0.1">Count</text>
<line x1="48" y1="556.8" x2="48" y2="557.6" stroke="#666" stroke-width="0.5"/>
<line x1="50" y1="556.8" x2="50" y2="557.6" stroke="#666" stroke-width="0.5"/>
<line x1="52" y1="556.8" x2="52" y2="557.6" stroke="#666" stroke-width="0.5"/>
<line x1="54" y1="556.8" x2="54" y2="557.6" stroke="#666" stroke-width="0.5"/>
<line x1="56" y1="556.8" x2="56" y2="557.6" stroke="#666" stroke-width="0.5"/>
<line x1="58" y1="556.8" x2="58" y2="557.6" stroke="#666" stroke-width="0.5"/>
<line x1="60" y1="556.8" x2="60" y2="557.6" stroke="#666" stroke-width="0.5"/>
<line x1="62" y1="556.8" x2="62" y2="557.6" stroke="#666" stroke-width="0.5"/>
<line x1="64" y1="556.8" x2="64" y2="557.6" stroke="#666" stroke-width="0.5"/>
<line x1="66" y1="556.8" x2="66" y2="557.6" stroke="#666" stroke-width="0.5"/>
<line x1="68" y1="556.8" x2="68" y2="557.6" stroke="#666" stroke-width="0.5"/>
<line x1="70" y1="556.8" x2="70" y2="557.6" stroke="#666" stroke-width="0.5"/>
<line x1="74" y1="556.8" x2="74" y2="557.6" stroke="#666" stroke-width="0.5"/>
<line x1="79" y1="556.8" x2="79" y2="557.6" stroke="#666" stroke-width="0.5"/>
<line x1="83" y1="556.8" x2="83" y2="557.6" stroke="#666" stroke-width="0.5"/>
<line x1="86" y1="556.8" x2="86" y2="557.6" stroke="#666" stroke-width="0.5"/>
<line x1="88" y1="556.8" x2="88" y2="557.6" stroke="#666" stroke-width="0.5"/>
<line x1="90" y1="556.8" x2="90" y2="557.6" stroke="#666" stroke-width="0.5"/>
<line x1="92" y1="556.8" x2="92" y2="557.6" stroke="#666" stroke-width="0.5"/>
<line x1="97" y1="556.8" x2="97" y2="557.6" stroke="#666" stroke-width="0.5"/>
<line x1="102" y1="556.8" x2="102" y2="557.6" stroke="#666" stroke-width="0.5"/>
<line x1="105" y1="556.8" x2="105" y2="557.6" stroke="#666" stroke-width="0.5"/>
<line x1="108" y1="556.8" x2="108" y2="557.6" stroke="#666" stroke-width="0.5"/>
<line x1="110" y1="556.8" x2="110" y2="557.6" stroke="#666" stroke-width="0.5"/>
<line x1="112" y1="556.8" x2="112" y2="557.6" stroke="#666" stroke-width="0.5"/>
<line x1="114" y1="556.8" x2="114" y2="557.6" stroke="#666" stroke-width="0.5"/>
<line x1="119" y1="556.8" x2="119" y2="557.6" stroke="#666" stroke-width="0.5"/>
<line x1="123" y1="556.8" x2="123" y2="557.6" stroke="#666" stroke-width="0.5"/>
<line x1="126" y1="556.8" x2="126" y2="557.6" stroke="#666" stroke-width="0.5"/>
<line x1="128" y1="556.8" x2="128" y2="557.6" stroke="#666" stroke-width="0.5"/>
<line x1="130" y1="556.8" x2="130" y2="557.6" stroke="#666" stroke-width="0.5"/>
<line x1="132" y1="556.8" x2="132" y2="557.6" stroke="#666" stroke-width="0.5"/>
<line x1="163.2" y1="335.7" x2="163.2" y2="400.05" stroke="#000" stroke-width="0.9"/>
<line x1="162.75" y1="399.6" x2="248.4" y2="399.6" stroke="#000" stroke-width="0.9"/>
<line x1="160.9" y1="399.6" x2="163.2" y2="399.6" stroke="#000" stroke-width="0.9"/>
<text x="160.1" y="401.65" text-anchor="end" font-size="5.4" font-weight="bold" fill="#000" stroke="#000" stroke-width="0.1">0</text>
<line x1="160.9" y1="383.62" x2="163.2" y2="383.62" stroke="#000" stroke-width="0.9"/>
<text x="160.1" y="385.68" text-anchor="end" font-size="5.4" font-weight="bold" fill="#000" stroke="#000" stroke-width="0.1">20</text>
<line x1="160.9" y1="367.65" x2="163.2" y2="367.65" stroke="#000" stroke-width="0.9"/>
<text x="160.1" y="369.7" text-anchor="end" font-size="5.4" font-weight="bold" fill="#000" stroke="#000" stroke-width="0.1">40</text>
<line x1="160.9" y1="351.68" x2="163.2" y2="351.68" stroke="#000" stroke-width="0.9"/>
<text x="160.1" y="353.73" text-anchor="end" font-size="5.4" font-weight="bold" fill="#000" stroke="#000" stroke-width="0.1">60</text>
<line x1="160.9" y1="335.7" x2="163.2" y2="335.7" stroke="#000" stroke-width="0.9"/>
<text x="160.1" y="337.75" text-anchor="end" font-size="5.4" font-weight="bold" fill="#000" stroke="#000" stroke-width="0.1">80</text>
<rect x="168.1" y="395.4" width="12.4" height="4.2" fill="#fff" stroke="#000" stroke-width="0.9"/>
<line x1="174.3" y1="399.6" x2="174.3" y2="401.8" stroke="#000" stroke-width="0.9"/>
<rect x="189.2" y="397.5" width="12.5" height="2.1" fill="#d0d0d0" stroke="#000" stroke-width="0.9"/>
<line x1="195.45" y1="399.6" x2="195.45" y2="401.8" stroke="#000" stroke-width="0.9"/>
<line x1="216.6" y1="350.9" x2="216.6" y2="351.7" stroke="#000" stroke-width="0.9"/>
<line x1="213.6" y1="350.9" x2="219.6" y2="350.9" stroke="#000" stroke-width="0.9"/>
<rect x="210.2" y="351.7" width="12.8" height="47.9" fill="#888" stroke="#000" stroke-width="0.9"/>
<line x1="216.6" y1="399.6" x2="216.6" y2="401.8" stroke="#000" stroke-width="0.9"/>
<line x1="238.3" y1="378" x2="238.3" y2="379.2" stroke="#000" stroke-width="0.9"/>
<line x1="235.3" y1="378" x2="241.3" y2="378" stroke="#000" stroke-width="0.9"/>
<rect x="232.1" y="379.2" width="12.4" height="20.4" fill="#000" stroke="#000" stroke-width="0.9"/>
<line x1="238.3" y1="399.6" x2="238.3" y2="401.8" stroke="#000" stroke-width="0.9"/>
<polyline points="216.8,349.9 216.8,346.7 237.7,346.7 237.7,376.5" fill="none" stroke="#000" stroke-width="0.8"/>
<text x="227.4" y="347.6" text-anchor="middle" font-size="6.5" font-weight="bold" fill="#000" stroke="#000" stroke-width="0.1">***</text>
<text x="163.3" y="411.2" text-anchor="end" font-size="6.3" font-weight="bold" fill="#000" stroke="#000" stroke-width="0.1">PAM</text>
<text x="163.3" y="422" text-anchor="end" font-size="6.3" font-weight="bold" fill="#000" stroke="#000" stroke-width="0.1">Fer-1</text>
<text x="174.8" y="411.2" text-anchor="middle" font-size="6.5" font-weight="bold" fill="#000" stroke="#000" stroke-width="0.1">-</text>
<text x="195.6" y="411.2" text-anchor="middle" font-size="6.5" font-weight="bold" fill="#000" stroke="#000" stroke-width="0.1">-</text>
<text x="216.8" y="411.2" text-anchor="middle" font-size="6.5" font-weight="bold" fill="#000" stroke="#000" stroke-width="0.1">+</text>
<text x="237.8" y="411.2" text-anchor="middle" font-size="6.5" font-weight="bold" fill="#000" stroke="#000" stroke-width="0.1">+</text>
<text x="174.8" y="422" text-anchor="middle" font-size="6.5" font-weight="bold" fill="#000" stroke="#000" stroke-width="0.1">-</text>
<text x="195.6" y="422" text-anchor="middle" font-size="6.5" font-weight="bold" fill="#000" stroke="#000" stroke-width="0.1">+</text>
<text x="216.8" y="422" text-anchor="middle" font-size="6.5" font-weight="bold" fill="#000" stroke="#000" stroke-width="0.1">-</text>
<text x="237.8" y="422" text-anchor="middle" font-size="6.5" font-weight="bold" fill="#000" stroke="#000" stroke-width="0.1">+</text>
<text transform="translate(152.2,366.3) rotate(-90)" text-anchor="middle" font-size="6.2" font-weight="bold" fill="#000" stroke="#000" stroke-width="0.1">% of oxidized C11 BODIPY</text>
<line x1="163.9" y1="477.8" x2="163.9" y2="541.85" stroke="#000" stroke-width="0.9"/>
<line x1="163.45" y1="541.4" x2="248.5" y2="541.4" stroke="#000" stroke-width="0.9"/>
<line x1="161.6" y1="541.4" x2="163.9" y2="541.4" stroke="#000" stroke-width="0.9"/>
<text x="160.8" y="543.45" text-anchor="end" font-size="5.4" font-weight="bold" fill="#000" stroke="#000" stroke-width="0.1">0</text>
<line x1="161.6" y1="525.5" x2="163.9" y2="525.5" stroke="#000" stroke-width="0.9"/>
<text x="160.8" y="527.55" text-anchor="end" font-size="5.4" font-weight="bold" fill="#000" stroke="#000" stroke-width="0.1">5</text>
<line x1="161.6" y1="509.6" x2="163.9" y2="509.6" stroke="#000" stroke-width="0.9"/>
<text x="160.8" y="511.65" text-anchor="end" font-size="5.4" font-weight="bold" fill="#000" stroke="#000" stroke-width="0.1">10</text>
<line x1="161.6" y1="493.7" x2="163.9" y2="493.7" stroke="#000" stroke-width="0.9"/>
<text x="160.8" y="495.75" text-anchor="end" font-size="5.4" font-weight="bold" fill="#000" stroke="#000" stroke-width="0.1">15</text>
<line x1="161.6" y1="477.8" x2="163.9" y2="477.8" stroke="#000" stroke-width="0.9"/>
<text x="160.8" y="479.85" text-anchor="end" font-size="5.4" font-weight="bold" fill="#000" stroke="#000" stroke-width="0.1">20</text>
<line x1="174.65" y1="525.5" x2="174.65" y2="526.9" stroke="#000" stroke-width="0.9"/>
<line x1="171.65" y1="525.5" x2="177.65" y2="525.5" stroke="#000" stroke-width="0.9"/>
<rect x="168.5" y="526.9" width="12.3" height="14.5" fill="#fff" stroke="#000" stroke-width="0.9"/>
<line x1="174.65" y1="541.4" x2="174.65" y2="543.6" stroke="#000" stroke-width="0.9"/>
<rect x="189.5" y="529.4" width="12.8" height="12" fill="#d0d0d0" stroke="#000" stroke-width="0.9"/>
<line x1="195.9" y1="541.4" x2="195.9" y2="543.6" stroke="#000" stroke-width="0.9"/>
<line x1="217.1" y1="503.6" x2="217.1" y2="504.4" stroke="#000" stroke-width="0.9"/>
<line x1="214.1" y1="503.6" x2="220.1" y2="503.6" stroke="#000" stroke-width="0.9"/>
<rect x="210.7" y="504.4" width="12.8" height="37" fill="#888" stroke="#000" stroke-width="0.9"/>
<line x1="217.1" y1="541.4" x2="217.1" y2="543.6" stroke="#000" stroke-width="0.9"/>
<line x1="238" y1="522.6" x2="238" y2="523.3" stroke="#000" stroke-width="0.9"/>
<line x1="235" y1="522.6" x2="241" y2="522.6" stroke="#000" stroke-width="0.9"/>
<rect x="231.6" y="523.3" width="12.8" height="18.1" fill="#000" stroke="#000" stroke-width="0.9"/>
<line x1="238" y1="541.4" x2="238" y2="543.6" stroke="#000" stroke-width="0.9"/>
<polyline points="217.1,503.4 217.1,499.3 238.3,499.3 238.3,522.3" fill="none" stroke="#000" stroke-width="0.8"/>
<text x="227.8" y="500.2" text-anchor="middle" font-size="6.5" font-weight="bold" fill="#000" stroke="#000" stroke-width="0.1">***</text>
<text x="163.3" y="554" text-anchor="end" font-size="6.3" font-weight="bold" fill="#000" stroke="#000" stroke-width="0.1">PAM</text>
<text x="163.3" y="565" text-anchor="end" font-size="6.3" font-weight="bold" fill="#000" stroke="#000" stroke-width="0.1">Fer-1</text>
<text x="174.8" y="554" text-anchor="middle" font-size="6.5" font-weight="bold" fill="#000" stroke="#000" stroke-width="0.1">-</text>
<text x="195.6" y="554" text-anchor="middle" font-size="6.5" font-weight="bold" fill="#000" stroke="#000" stroke-width="0.1">-</text>
<text x="216.8" y="554" text-anchor="middle" font-size="6.5" font-weight="bold" fill="#000" stroke="#000" stroke-width="0.1">+</text>
<text x="237.8" y="554" text-anchor="middle" font-size="6.5" font-weight="bold" fill="#000" stroke="#000" stroke-width="0.1">+</text>
<text x="174.8" y="565" text-anchor="middle" font-size="6.5" font-weight="bold" fill="#000" stroke="#000" stroke-width="0.1">-</text>
<text x="195.6" y="565" text-anchor="middle" font-size="6.5" font-weight="bold" fill="#000" stroke="#000" stroke-width="0.1">+</text>
<text x="216.8" y="565" text-anchor="middle" font-size="6.5" font-weight="bold" fill="#000" stroke="#000" stroke-width="0.1">-</text>
<text x="237.8" y="565" text-anchor="middle" font-size="6.5" font-weight="bold" fill="#000" stroke="#000" stroke-width="0.1">+</text>
<text transform="translate(152.7,509) rotate(-90)" text-anchor="middle" font-size="6.1" font-weight="bold" fill="#000" stroke="#000" stroke-width="0.1">% of oxidized C11 BODIPY</text>
<text x="369.2" y="327" text-anchor="middle" font-size="9.1" font-weight="normal" fill="#000" stroke="#000" stroke-width="0.06">H1299</text>
<line x1="330.3" y1="335.8" x2="330.3" y2="438.25" stroke="#000" stroke-width="1.1"/>
<line x1="329.75" y1="437.7" x2="407.4" y2="437.7" stroke="#000" stroke-width="1.1"/>
<line x1="327.3" y1="437.7" x2="330.3" y2="437.7" stroke="#000" stroke-width="1.1"/>
<text x="326.4" y="440.47" text-anchor="end" font-size="7.3" font-weight="bold" fill="#000" stroke="#000" stroke-width="0.1">0</text>
<line x1="327.3" y1="417.32" x2="330.3" y2="417.32" stroke="#000" stroke-width="1.1"/>
<text x="326.4" y="420.09" text-anchor="end" font-size="7.3" font-weight="bold" fill="#000" stroke="#000" stroke-width="0.1">2</text>
<line x1="327.3" y1="396.94" x2="330.3" y2="396.94" stroke="#000" stroke-width="1.1"/>
<text x="326.4" y="399.71" text-anchor="end" font-size="7.3" font-weight="bold" fill="#000" stroke="#000" stroke-width="0.1">4</text>
<line x1="327.3" y1="376.56" x2="330.3" y2="376.56" stroke="#000" stroke-width="1.1"/>
<text x="326.4" y="379.33" text-anchor="end" font-size="7.3" font-weight="bold" fill="#000" stroke="#000" stroke-width="0.1">6</text>
<line x1="327.3" y1="356.18" x2="330.3" y2="356.18" stroke="#000" stroke-width="1.1"/>
<text x="326.4" y="358.95" text-anchor="end" font-size="7.3" font-weight="bold" fill="#000" stroke="#000" stroke-width="0.1">8</text>
<line x1="327.3" y1="335.8" x2="330.3" y2="335.8" stroke="#000" stroke-width="1.1"/>
<text x="326.4" y="338.57" text-anchor="end" font-size="7.3" font-weight="bold" fill="#000" stroke="#000" stroke-width="0.1">10</text>
<line x1="349.55" y1="426.8" x2="349.55" y2="427.4" stroke="#000" stroke-width="1.1"/>
<line x1="343.68" y1="426.8" x2="355.42" y2="426.8" stroke="#000" stroke-width="1.1"/>
<rect x="336.5" y="427.4" width="26.1" height="10.3" fill="#fff" stroke="#000" stroke-width="1.1"/>
<line x1="349.55" y1="437.7" x2="349.55" y2="439.9" stroke="#000" stroke-width="1.1"/>
<line x1="388.5" y1="370.2" x2="388.5" y2="371.2" stroke="#000" stroke-width="1.1"/>
<line x1="382.65" y1="370.2" x2="394.35" y2="370.2" stroke="#000" stroke-width="1.1"/>
<rect x="375.5" y="371.2" width="26" height="66.5" fill="#000" stroke="#000" stroke-width="1.1"/>
<line x1="388.5" y1="437.7" x2="388.5" y2="439.9" stroke="#000" stroke-width="1.1"/>
<polyline points="349.8,423.3 349.8,362.1 388.3,362.1 388.3,368.9" fill="none" stroke="#222" stroke-width="0.9"/>
<text x="369.2" y="359.5" text-anchor="middle" font-size="8.6" font-weight="bold" fill="#000" stroke="#000" stroke-width="0.1">***</text>
<text x="349.6" y="448.5" text-anchor="middle" font-size="7.7" font-weight="bold" fill="#000" stroke="#000" stroke-width="0.1">Control</text>
<text x="388.2" y="448.5" text-anchor="middle" font-size="7.8" font-weight="bold" fill="#000" stroke="#000" stroke-width="0.1">PAM</text>
<text transform="translate(312.6,386.5) rotate(-90)" text-anchor="middle" font-size="8.3" font-weight="bold" fill="#000" stroke="#000" stroke-width="0.1">Relative PTGS2 mRNA level</text>
<text x="364" y="468.2" text-anchor="middle" font-size="9.1" font-weight="normal" fill="#000" stroke="#000" stroke-width="0.06">A549</text>
<line x1="327.4" y1="477.7" x2="327.4" y2="579.05" stroke="#000" stroke-width="1.1"/>
<line x1="326.85" y1="578.5" x2="400.8" y2="578.5" stroke="#000" stroke-width="1.1"/>
<line x1="324.4" y1="578.5" x2="327.4" y2="578.5" stroke="#000" stroke-width="1.1"/>
<text x="323.5" y="581.27" text-anchor="end" font-size="7.3" font-weight="bold" fill="#000" stroke="#000" stroke-width="0.1">0</text>
<line x1="324.4" y1="544.9" x2="327.4" y2="544.9" stroke="#000" stroke-width="1.1"/>
<text x="323.5" y="547.67" text-anchor="end" font-size="7.3" font-weight="bold" fill="#000" stroke="#000" stroke-width="0.1">1</text>
<line x1="324.4" y1="511.3" x2="327.4" y2="511.3" stroke="#000" stroke-width="1.1"/>
<text x="323.5" y="514.07" text-anchor="end" font-size="7.3" font-weight="bold" fill="#000" stroke="#000" stroke-width="0.1">2</text>
<line x1="324.4" y1="477.7" x2="327.4" y2="477.7" stroke="#000" stroke-width="1.1"/>
<text x="323.5" y="480.47" text-anchor="end" font-size="7.3" font-weight="bold" fill="#000" stroke="#000" stroke-width="0.1">3</text>
<line x1="346" y1="544.3" x2="346" y2="545" stroke="#000" stroke-width="1.1"/>
<line x1="340.6" y1="544.3" x2="351.4" y2="544.3" stroke="#000" stroke-width="1.1"/>
<rect x="334" y="545" width="24" height="33.5" fill="#fff" stroke="#000" stroke-width="1.1"/>
<line x1="346" y1="578.5" x2="346" y2="580.7" stroke="#000" stroke-width="1.1"/>
<line x1="382.8" y1="519.9" x2="382.8" y2="521.8" stroke="#000" stroke-width="1.1"/>
<line x1="377.4" y1="519.9" x2="388.2" y2="519.9" stroke="#000" stroke-width="1.1"/>
<rect x="370.8" y="521.8" width="24" height="56.7" fill="#000" stroke="#000" stroke-width="1.1"/>
<line x1="382.8" y1="578.5" x2="382.8" y2="580.7" stroke="#000" stroke-width="1.1"/>
<polyline points="345.8,541.2 345.8,507.7 382.6,507.7 382.6,515.9" fill="none" stroke="#222" stroke-width="0.9"/>
<text x="364" y="506.7" text-anchor="middle" font-size="8.6" font-weight="bold" fill="#000" stroke="#000" stroke-width="0.1">**</text>
<text x="346.7" y="590.3" text-anchor="middle" font-size="7.7" font-weight="bold" fill="#000" stroke="#000" stroke-width="0.1">Control</text>
<text x="382.8" y="590.3" text-anchor="middle" font-size="7.8" font-weight="bold" fill="#000" stroke="#000" stroke-width="0.1">PAM</text>
<text transform="translate(315.8,528) rotate(-90)" text-anchor="middle" font-size="8.3" font-weight="bold" fill="#000" stroke="#000" stroke-width="0.1">Relative PTGS2 mRNA level</text>
<text x="531.7" y="327.3" text-anchor="middle" font-size="9.1" font-weight="normal" fill="#000" stroke="#000" stroke-width="0.06">H1299</text>
<line x1="491.1" y1="328.8" x2="491.1" y2="420.55" stroke="#000" stroke-width="1.1"/>
<line x1="490.55" y1="420" x2="575.3" y2="420" stroke="#000" stroke-width="1.1"/>
<line x1="488.1" y1="420" x2="491.1" y2="420" stroke="#000" stroke-width="1.1"/>
<text x="487.2" y="422.77" text-anchor="end" font-size="7.3" font-weight="bold" fill="#000" stroke="#000" stroke-width="0.1">0</text>
<line x1="488.1" y1="401.76" x2="491.1" y2="401.76" stroke="#000" stroke-width="1.1"/>
<text x="487.2" y="404.53" text-anchor="end" font-size="7.3" font-weight="bold" fill="#000" stroke="#000" stroke-width="0.1">5</text>
<line x1="488.1" y1="383.52" x2="491.1" y2="383.52" stroke="#000" stroke-width="1.1"/>
<text x="487.2" y="386.29" text-anchor="end" font-size="7.3" font-weight="bold" fill="#000" stroke="#000" stroke-width="0.1">10</text>
<line x1="488.1" y1="365.28" x2="491.1" y2="365.28" stroke="#000" stroke-width="1.1"/>
<text x="487.2" y="368.05" text-anchor="end" font-size="7.3" font-weight="bold" fill="#000" stroke="#000" stroke-width="0.1">15</text>
<line x1="488.1" y1="347.04" x2="491.1" y2="347.04" stroke="#000" stroke-width="1.1"/>
<text x="487.2" y="349.81" text-anchor="end" font-size="7.3" font-weight="bold" fill="#000" stroke="#000" stroke-width="0.1">20</text>
<line x1="488.1" y1="328.8" x2="491.1" y2="328.8" stroke="#000" stroke-width="1.1"/>
<text x="487.2" y="331.57" text-anchor="end" font-size="7.3" font-weight="bold" fill="#000" stroke="#000" stroke-width="0.1">25</text>
<line x1="505.15" y1="416.6" x2="505.15" y2="417.4" stroke="#000" stroke-width="1.1"/>
<line x1="501.15" y1="416.6" x2="509.15" y2="416.6" stroke="#000" stroke-width="1.1"/>
<rect x="496.5" y="417.4" width="17.3" height="2.6" fill="#d8d8d8" stroke="#000" stroke-width="1.1"/>
<line x1="505.15" y1="420" x2="505.15" y2="422.2" stroke="#000" stroke-width="1.1"/>
<line x1="532.95" y1="347.1" x2="532.95" y2="356.7" stroke="#000" stroke-width="1.1"/>
<line x1="528.95" y1="347.1" x2="536.95" y2="347.1" stroke="#000" stroke-width="1.1"/>
<rect x="524.7" y="356.7" width="16.5" height="63.3" fill="#888" stroke="#000" stroke-width="1.1"/>
<line x1="532.95" y1="420" x2="532.95" y2="422.2" stroke="#000" stroke-width="1.1"/>
<line x1="560.8" y1="404.8" x2="560.8" y2="405.5" stroke="#000" stroke-width="1.1"/>
<line x1="556.8" y1="404.8" x2="564.8" y2="404.8" stroke="#000" stroke-width="1.1"/>
<rect x="552.4" y="405.5" width="16.8" height="14.5" fill="#000" stroke="#000" stroke-width="1.1"/>
<line x1="560.8" y1="420" x2="560.8" y2="422.2" stroke="#000" stroke-width="1.1"/>
<polyline points="532.9,345.3 532.9,341.5 560.8,341.5 560.8,403.5" fill="none" stroke="#222" stroke-width="0.9"/>
<text x="546.8" y="341.4" text-anchor="middle" font-size="8.6" font-weight="bold" fill="#000" stroke="#000" stroke-width="0.1">**</text>
<text x="489" y="435" text-anchor="end" font-size="8.1" font-weight="bold" fill="#000" stroke="#000" stroke-width="0.1">PAM</text>
<text x="489" y="449.5" text-anchor="end" font-size="8.1" font-weight="bold" fill="#000" stroke="#000" stroke-width="0.1">Fer-1</text>
<text x="504.6" y="435" text-anchor="middle" font-size="8.5" font-weight="bold" fill="#000" stroke="#000" stroke-width="0.1">-</text>
<text x="532.6" y="435" text-anchor="middle" font-size="8.5" font-weight="bold" fill="#000" stroke="#000" stroke-width="0.1">+</text>
<text x="560.6" y="435" text-anchor="middle" font-size="8.5" font-weight="bold" fill="#000" stroke="#000" stroke-width="0.1">+</text>
<text x="504.6" y="449.5" text-anchor="middle" font-size="8.5" font-weight="bold" fill="#000" stroke="#000" stroke-width="0.1">+</text>
<text x="532.6" y="449.5" text-anchor="middle" font-size="8.5" font-weight="bold" fill="#000" stroke="#000" stroke-width="0.1">-</text>
<text x="560.6" y="449.5" text-anchor="middle" font-size="8.5" font-weight="bold" fill="#000" stroke="#000" stroke-width="0.1">+</text>
<text transform="translate(473.5,373.7) rotate(-90)" text-anchor="middle" font-size="8.7" font-weight="bold" fill="#000" stroke="#000" stroke-width="0.1">LDH release (%)</text>
<text x="532" y="467.7" text-anchor="middle" font-size="9.1" font-weight="normal" fill="#000" stroke="#000" stroke-width="0.06">A549</text>
<line x1="490.9" y1="469.1" x2="490.9" y2="560.35" stroke="#000" stroke-width="1.1"/>
<line x1="490.35" y1="559.8" x2="574.6" y2="559.8" stroke="#000" stroke-width="1.1"/>
<line x1="487.9" y1="559.8" x2="490.9" y2="559.8" stroke="#000" stroke-width="1.1"/>
<text x="487" y="562.57" text-anchor="end" font-size="7.3" font-weight="bold" fill="#000" stroke="#000" stroke-width="0.1">0</text>
<line x1="487.9" y1="537.12" x2="490.9" y2="537.12" stroke="#000" stroke-width="1.1"/>
<text x="487" y="539.9" text-anchor="end" font-size="7.3" font-weight="bold" fill="#000" stroke="#000" stroke-width="0.1">20</text>
<line x1="487.9" y1="514.45" x2="490.9" y2="514.45" stroke="#000" stroke-width="1.1"/>
<text x="487" y="517.22" text-anchor="end" font-size="7.3" font-weight="bold" fill="#000" stroke="#000" stroke-width="0.1">40</text>
<line x1="487.9" y1="491.77" x2="490.9" y2="491.77" stroke="#000" stroke-width="1.1"/>
<text x="487" y="494.55" text-anchor="end" font-size="7.3" font-weight="bold" fill="#000" stroke="#000" stroke-width="0.1">60</text>
<line x1="487.9" y1="469.1" x2="490.9" y2="469.1" stroke="#000" stroke-width="1.1"/>
<text x="487" y="471.87" text-anchor="end" font-size="7.3" font-weight="bold" fill="#000" stroke="#000" stroke-width="0.1">80</text>
<line x1="504.95" y1="551.3" x2="504.95" y2="555.5" stroke="#000" stroke-width="1.1"/>
<line x1="500.95" y1="551.3" x2="508.95" y2="551.3" stroke="#000" stroke-width="1.1"/>
<rect x="496.5" y="555.5" width="16.9" height="4.3" fill="#d8d8d8" stroke="#000" stroke-width="1.1"/>
<line x1="504.95" y1="559.8" x2="504.95" y2="562" stroke="#000" stroke-width="1.1"/>
<line x1="533" y1="490.1" x2="533" y2="494.6" stroke="#000" stroke-width="1.1"/>
<line x1="529" y1="490.1" x2="537" y2="490.1" stroke="#000" stroke-width="1.1"/>
<rect x="524.6" y="494.6" width="16.8" height="65.2" fill="#888" stroke="#000" stroke-width="1.1"/>
<line x1="533" y1="559.8" x2="533" y2="562" stroke="#000" stroke-width="1.1"/>
<line x1="560.5" y1="509.8" x2="560.5" y2="511.5" stroke="#000" stroke-width="1.1"/>
<line x1="556.5" y1="509.8" x2="564.5" y2="509.8" stroke="#000" stroke-width="1.1"/>
<rect x="552.1" y="511.5" width="16.8" height="48.3" fill="#000" stroke="#000" stroke-width="1.1"/>
<line x1="560.5" y1="559.8" x2="560.5" y2="562" stroke="#000" stroke-width="1.1"/>
<polyline points="532.5,490.1 532.5,484 560,484 560,509.2" fill="none" stroke="#222" stroke-width="0.9"/>
<text x="545.9" y="484.2" text-anchor="middle" font-size="8.6" font-weight="bold" fill="#000" stroke="#000" stroke-width="0.1">**</text>
<text x="489" y="574.5" text-anchor="end" font-size="8.1" font-weight="bold" fill="#000" stroke="#000" stroke-width="0.1">PAM</text>
<text x="489" y="589.4" text-anchor="end" font-size="8.1" font-weight="bold" fill="#000" stroke="#000" stroke-width="0.1">Fer-1</text>
<text x="504.4" y="574.5" text-anchor="middle" font-size="8.5" font-weight="bold" fill="#000" stroke="#000" stroke-width="0.1">-</text>
<text x="532.5" y="574.5" text-anchor="middle" font-size="8.5" font-weight="bold" fill="#000" stroke="#000" stroke-width="0.1">+</text>
<text x="560.3" y="574.5" text-anchor="middle" font-size="8.5" font-weight="bold" fill="#000" stroke="#000" stroke-width="0.1">+</text>
<text x="504.4" y="589.4" text-anchor="middle" font-size="8.5" font-weight="bold" fill="#000" stroke="#000" stroke-width="0.1">+</text>
<text x="532.5" y="589.4" text-anchor="middle" font-size="8.5" font-weight="bold" fill="#000" stroke="#000" stroke-width="0.1">-</text>
<text x="560.3" y="589.4" text-anchor="middle" font-size="8.5" font-weight="bold" fill="#000" stroke="#000" stroke-width="0.1">+</text>
<text transform="translate(474.4,514) rotate(-90)" text-anchor="middle" font-size="8.7" font-weight="bold" fill="#000" stroke="#000" stroke-width="0.1">LDH release (%)</text>
</svg>
</body></html>
